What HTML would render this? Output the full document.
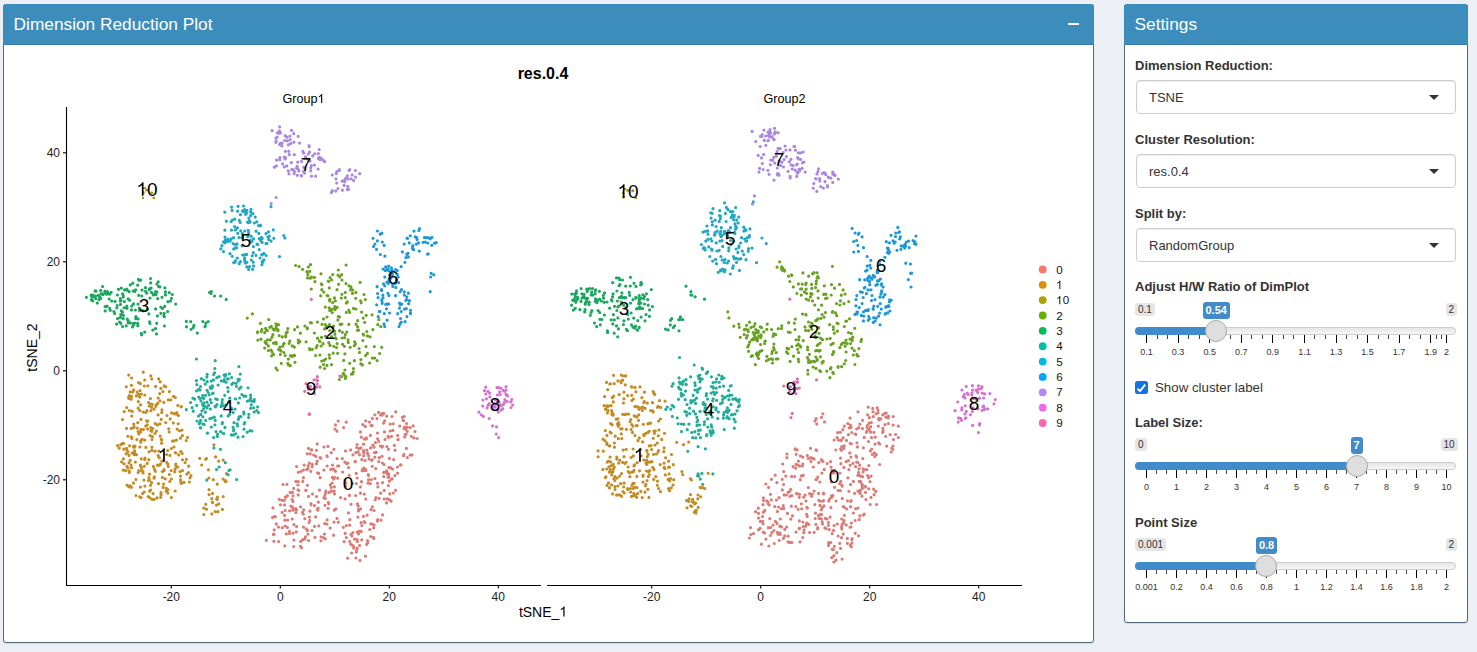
<!DOCTYPE html>
<html><head><meta charset="utf-8">
<style>
html,body{margin:0;padding:0;}
body{width:1477px;height:652px;overflow:hidden;background:#ecf0f5;position:relative;font-family:"Liberation Sans",sans-serif;color:#333;}
.box{position:absolute;background:#fff;border:1px solid #526c7e;border-radius:3px;box-shadow:0 1px 1px rgba(0,0,0,0.1);box-sizing:border-box;}
.hdr{position:absolute;left:-1px;top:-1px;right:-1px;height:40px;background:#3c8dbc;border-bottom:1px solid #3a7ba3;border-radius:3px 3px 0 0;}
.title{position:absolute;color:#fff;font-size:17.3px;white-space:nowrap;line-height:1;}
.minus{position:absolute;left:1068px;top:22.5px;width:10.5px;height:2px;background:#fff;}
.plot{position:absolute;left:0;top:0;}
.lbl{position:absolute;font-weight:bold;font-size:13px;color:#333;white-space:nowrap;line-height:1;}
.sel{position:absolute;left:1136px;width:320px;height:34px;border:1px solid #ccc;border-radius:4px;box-sizing:border-box;background:#fff;box-shadow:inset 0 1px 1px rgba(0,0,0,0.075);}
.sel span{position:absolute;left:12px;top:10px;font-size:13px;color:#333;line-height:1;white-space:nowrap;}
.sel i{position:absolute;right:16px;top:14px;width:0;height:0;border-style:solid;border-width:5.5px 5.5px 0 5.5px;border-color:#333 transparent transparent transparent;}
.abs{position:absolute;}
.irs-mm{position:absolute;height:13px;padding:0 3px;background:rgba(0,0,0,0.1);border-radius:3px;font-size:10px;line-height:13px;color:#333;white-space:nowrap;}
.irs-val{position:absolute;height:17px;padding:0 3px;background:#428bca;border-radius:3px;font-size:11px;font-weight:bold;line-height:17px;color:#fff;white-space:nowrap;}
.irs-line{position:absolute;left:1135px;width:321px;height:8px;border:1px solid #ccc;box-sizing:border-box;border-radius:8px;background:linear-gradient(to bottom,#dddddd -50%,#fff 150%);}
.irs-bar{position:absolute;left:1135px;height:8px;background:#428bca;border-radius:8px 0 0 8px;}
.irs-h{position:absolute;width:22px;height:22px;box-sizing:border-box;border:1px solid #ababab;background:#dedede;border-radius:50%;}
.tk{position:absolute;width:1px;background:#000;}
.tt{position:absolute;font-size:9px;color:#333;line-height:1;white-space:nowrap;transform:translateX(-50%);}
</style></head><body>
<div class="box" style="left:3px;top:4px;width:1091px;height:639px;">
  <div class="hdr"></div>
</div>
<div class="title" style="left:13.6px;top:15.8px;">Dimension Reduction Plot</div>
<div class="minus"></div>
<div class="box" style="left:1124px;top:4px;width:344px;height:619px;">
  <div class="hdr"></div>
</div>
<div class="title" style="left:1134.6px;top:15.8px;">Settings</div>
<svg class="plot" width="1477" height="652" viewBox="0 0 1477 652"><defs><filter id="bl" x="-0.05" y="-0.05" width="1.1" height="1.1"><feGaussianBlur stdDeviation="0.4"/></filter></defs>
<g font-family="Liberation Sans" fill="#000">
<text x="543" y="79" font-size="16" font-weight="bold" text-anchor="middle">res.0.4</text>
<g font-size="12.6"><text x="282.49" y="103.00">Group</text><path d="M322.21 103.00 L321.10 103.00 L321.10 95.94 L320.69 96.32 L320.04 96.71 L319.38 97.10 L318.87 97.29 L318.87 96.22 L319.79 95.79 L320.48 95.18 L321.17 94.56 L321.46 93.98 L322.21 93.98Z"/></g>
<text x="784.5" y="103" font-size="12.6" text-anchor="middle">Group2</text>
</g>
<g stroke="#000" stroke-width="1.1">
<line x1="66.5" y1="107" x2="66.5" y2="585.5"/>
<line x1="66" y1="585.5" x2="541" y2="585.5"/>
<line x1="547" y1="585.5" x2="1022" y2="585.5"/>
<line x1="63" y1="152.8" x2="66.5" y2="152.8"/><line x1="63" y1="261.8" x2="66.5" y2="261.8"/><line x1="63" y1="370.8" x2="66.5" y2="370.8"/><line x1="63" y1="479.8" x2="66.5" y2="479.8"/>
<line x1="171.3" y1="585.5" x2="171.3" y2="588.5"/><line x1="280.3" y1="585.5" x2="280.3" y2="588.5"/><line x1="389.3" y1="585.5" x2="389.3" y2="588.5"/><line x1="498.3" y1="585.5" x2="498.3" y2="588.5"/>
<line x1="651.7" y1="585.5" x2="651.7" y2="588.5"/><line x1="760.7" y1="585.5" x2="760.7" y2="588.5"/><line x1="869.7" y1="585.5" x2="869.7" y2="588.5"/><line x1="978.7" y1="585.5" x2="978.7" y2="588.5"/>
</g>
<g font-family="Liberation Sans" font-size="12" fill="#222" text-anchor="middle">
<text x="171.3" y="601">-20</text><text x="280.3" y="601">0</text><text x="389.3" y="601">20</text><text x="498.3" y="601">40</text>
<text x="651.7" y="601">-20</text><text x="760.7" y="601">0</text><text x="869.7" y="601">20</text><text x="978.7" y="601">40</text>
</g>
<g font-family="Liberation Sans" font-size="12" fill="#222" text-anchor="end">
<text x="60" y="152.8" dominant-baseline="central">40</text><text x="60" y="261.8" dominant-baseline="central">20</text><text x="60" y="370.8" dominant-baseline="central">0</text><text x="60" y="479.8" dominant-baseline="central">-20</text>
</g>
<g font-family="Liberation Sans" font-size="14"><text x="518.88" y="616.50">tSNE_</text><path d="M564.56 616.50 L563.33 616.50 L563.33 608.66 L562.88 609.08 L562.15 609.51 L561.42 609.95 L560.85 610.16 L560.85 608.97 L561.87 608.49 L562.64 607.81 L563.41 607.12 L563.73 606.48 L564.56 606.48Z"/></g>
<text transform="translate(36.5,347.5) rotate(-90)" font-family="Liberation Sans" font-size="14" text-anchor="middle">tSNE_2</text>
<path d="M348.5 512.9h0M373.9 538.4h0M407.2 431.3h0M302.7 539.7h0M387.1 471.9h0M388.5 437.4h0M388.1 477.3h0M367.8 542.8h0M338.3 522.2h0M345.1 498.9h0M328.8 503.8h0M404.2 416.5h0M382.4 463.0h0M331.2 452.7h0M313.7 455.0h0M374.1 510.5h0M278.7 541.6h0M332.2 483.0h0M394.8 475.6h0M287.4 495.7h0M394.3 445.4h0M301.5 547.7h0M404.7 427.1h0M285.3 497.0h0M320.8 458.2h0M380.7 493.2h0M403.9 454.3h0M376.0 497.5h0M405.8 429.2h0M300.7 541.4h0M312.1 466.8h0M386.5 502.9h0M407.0 427.3h0M337.6 466.0h0M293.1 533.2h0M375.2 499.8h0M377.7 519.6h0M362.8 469.1h0M370.6 447.9h0M383.5 423.2h0M323.9 470.1h0M332.5 465.0h0M363.5 444.2h0M325.4 498.5h0M364.9 522.6h0M311.8 449.8h0M403.0 420.3h0M370.4 435.4h0M308.5 448.4h0M366.3 437.8h0M303.7 509.8h0M325.6 493.0h0M317.2 461.2h0M348.6 467.6h0M384.2 490.4h0M292.8 510.2h0M337.0 431.2h0M363.4 470.7h0M364.2 521.5h0M317.9 510.2h0M331.7 491.3h0M357.4 503.9h0M334.2 491.2h0M351.9 536.0h0M296.6 466.6h0M292.0 499.5h0M315.9 456.4h0M384.4 431.9h0M404.0 428.6h0M357.1 548.2h0M397.7 435.4h0M360.4 486.9h0M286.0 497.3h0M333.6 535.2h0M293.7 488.4h0M335.0 429.0h0M388.5 449.3h0M377.0 418.5h0M397.9 439.6h0M351.6 553.0h0M311.4 449.9h0M304.1 465.1h0M370.8 523.8h0M296.5 509.7h0M327.2 456.5h0M386.9 446.6h0M366.7 544.4h0M345.5 450.9h0M346.2 422.2h0M397.4 467.0h0M320.1 477.7h0M290.9 506.1h0M361.3 437.2h0M361.1 522.7h0M367.5 540.6h0M384.2 499.0h0M296.6 526.6h0M334.4 486.8h0M342.3 458.6h0M321.1 536.8h0M374.1 447.2h0M358.2 505.9h0M404.7 437.0h0M359.5 454.8h0M369.0 459.0h0M304.9 539.1h0M406.4 448.4h0M323.8 497.8h0M365.6 469.5h0M328.1 508.3h0M388.1 436.3h0M293.9 524.6h0M385.6 472.2h0M338.8 466.0h0M355.8 452.6h0M273.9 534.1h0M378.7 441.3h0M390.1 431.0h0M395.8 411.9h0M377.5 433.0h0M298.0 489.8h0M400.3 465.0h0M367.1 515.2h0M327.0 455.9h0M345.7 486.2h0M282.3 527.7h0M388.9 467.7h0M379.3 457.7h0M380.5 415.0h0M370.7 536.6h0M343.3 527.3h0M361.7 539.9h0M328.3 502.4h0M319.5 490.1h0M293.0 501.4h0M391.1 501.2h0M355.0 461.8h0M363.7 450.5h0M318.4 502.2h0M357.3 539.5h0M403.5 420.7h0M324.0 447.0h0M411.9 454.9h0M279.2 499.3h0M316.5 463.7h0M354.6 539.2h0M384.1 464.5h0M384.7 420.9h0M325.8 491.0h0M306.1 528.9h0M350.6 449.9h0M340.6 497.7h0M318.7 473.4h0M358.5 511.0h0M367.5 453.2h0M335.5 424.9h0M388.7 474.0h0M413.9 437.9h0M333.6 479.1h0M372.4 506.8h0M375.8 468.7h0M360.4 431.9h0M403.5 455.8h0M368.2 474.7h0M324.9 495.3h0M372.8 445.3h0M285.1 510.5h0M333.9 449.3h0M389.4 481.2h0M337.0 518.4h0M372.2 425.5h0M344.9 462.1h0M274.7 516.3h0M272.6 517.4h0M287.7 520.2h0M365.5 556.2h0M335.9 508.8h0M377.4 521.1h0M333.4 468.9h0M301.1 471.3h0M337.7 478.2h0M389.8 493.9h0M292.3 507.1h0M391.5 436.4h0M318.1 508.2h0M284.6 504.9h0M274.0 534.6h0M266.3 540.3h0M386.4 472.2h0M357.3 541.4h0M361.0 447.8h0M346.7 463.7h0M386.7 416.2h0M378.6 412.4h0M275.3 516.8h0M294.0 509.3h0M371.3 479.5h0M345.8 482.8h0M359.3 448.7h0M334.5 493.9h0M365.8 499.1h0M361.9 525.6h0M355.4 461.4h0M356.4 483.5h0M356.8 550.0h0M309.8 520.3h0M298.8 490.5h0M361.5 481.7h0M280.4 504.8h0M393.3 493.0h0M325.0 505.3h0M361.2 531.4h0M316.4 450.3h0M338.2 421.1h0M283.0 484.5h0M363.6 455.8h0M327.1 466.0h0M372.3 466.3h0M376.3 452.3h0M302.5 512.3h0M324.6 523.6h0M349.2 475.3h0M406.1 434.3h0M371.7 460.3h0M320.1 457.7h0M365.1 460.5h0M365.8 420.8h0M308.1 465.8h0M368.6 455.8h0M337.1 458.7h0M368.5 479.8h0M334.0 469.8h0M328.9 492.6h0M352.9 545.7h0M305.4 536.9h0M325.2 538.9h0M320.9 540.8h0M374.8 457.2h0M342.6 472.0h0M330.3 484.9h0M311.0 504.8h0M364.3 494.1h0M383.8 413.4h0M345.2 533.4h0M383.6 472.4h0M363.5 452.1h0M314.5 505.6h0M361.8 459.6h0M324.5 534.1h0M303.4 527.1h0M344.1 541.6h0M410.1 455.1h0M406.6 423.5h0M286.3 533.9h0M359.6 545.5h0M298.3 481.6h0M306.6 469.6h0M284.4 500.3h0M355.7 495.5h0M357.9 517.2h0M363.8 468.0h0M372.2 459.8h0M377.5 483.3h0M289.4 531.4h0M310.2 453.8h0M410.0 427.5h0M314.5 526.4h0M330.8 469.4h0M359.3 531.3h0M393.7 459.6h0M302.8 481.4h0M334.0 522.2h0M349.5 495.4h0M347.9 463.0h0M276.3 523.9h0M373.1 445.2h0M357.1 478.0h0M399.7 426.1h0M387.2 498.8h0M346.3 525.5h0M352.4 483.4h0M309.0 522.5h0M392.2 478.9h0M306.1 490.4h0M300.4 546.3h0M402.4 417.2h0M300.6 506.8h0M318.8 525.9h0M315.0 537.3h0M316.6 496.5h0M290.1 492.4h0M284.9 520.2h0M328.0 446.4h0M343.6 427.6h0M278.5 527.1h0M369.8 529.5h0M358.6 509.4h0M395.1 450.2h0M358.5 534.0h0M286.9 484.3h0M307.2 453.8h0M273.0 507.9h0M273.9 541.3h0M353.0 454.8h0M308.6 540.5h0M357.2 532.0h0M382.6 446.3h0M382.1 456.3h0M357.1 444.5h0M356.7 447.5h0M307.4 485.3h0M374.5 452.6h0M377.9 486.9h0M309.4 517.0h0M358.1 451.9h0M347.7 558.2h0M390.2 424.1h0M312.5 494.1h0M371.0 509.7h0M375.5 442.6h0M411.3 436.3h0M334.3 510.2h0M307.9 534.2h0M398.2 439.5h0M374.1 525.0h0M368.0 483.1h0M366.9 450.0h0M415.0 431.5h0M387.5 474.1h0M377.7 438.8h0M391.4 479.1h0M370.9 425.5h0M274.2 529.8h0M351.0 504.3h0M382.2 415.1h0M308.1 468.7h0M276.4 524.1h0M382.0 447.1h0M292.4 492.4h0M349.7 525.2h0M393.3 423.8h0M365.8 438.9h0M390.5 467.7h0M378.8 461.6h0M303.4 477.7h0M330.1 528.1h0M295.9 512.6h0M295.8 508.5h0M303.3 514.1h0M295.9 512.5h0M353.4 546.1h0M304.8 518.7h0M289.5 533.5h0M350.8 544.3h0M317.2 443.9h0M292.2 519.0h0M362.9 424.7h0M273.3 534.3h0M383.8 476.6h0M385.0 439.4h0M360.5 493.2h0M293.9 540.0h0M379.1 498.3h0M366.0 470.5h0M386.4 470.8h0M350.9 534.5h0M360.6 508.9h0M365.3 426.4h0M362.1 470.6h0M312.0 530.5h0M372.4 418.4h0M303.4 470.1h0M331.1 491.2h0M373.7 527.8h0M395.6 490.3h0M312.3 464.3h0M334.6 477.5h0M374.9 478.6h0M293.8 546.5h0M295.9 481.4h0M392.0 416.5h0M308.6 496.4h0M289.6 510.8h0M327.0 524.1h0M401.0 464.9h0M310.7 471.3h0M285.2 526.0h0M382.6 514.9h0M298.3 472.3h0M382.6 482.7h0M296.3 531.9h0M352.9 532.7h0M370.3 483.6h0M392.9 430.4h0M372.3 524.1h0M369.5 422.1h0M287.4 527.4h0M380.4 446.0h0M388.8 476.8h0M305.7 490.4h0M382.0 413.5h0M284.6 515.3h0M327.1 519.9h0M381.0 520.2h0M363.8 452.8h0M356.4 551.9h0M405.1 434.5h0M311.0 503.5h0M389.3 458.4h0M368.5 475.6h0M315.6 516.9h0M360.0 560.4h0M317.4 509.1h0M366.4 438.9h0M293.0 495.8h0M346.3 537.6h0M298.2 494.9h0M331.3 487.5h0M374.9 414.8h0M284.8 545.9h0M309.9 511.2h0M349.7 541.6h0M317.6 472.9h0M392.5 469.1h0M363.5 516.3h0M353.7 548.1h0M355.9 558.0h0M323.3 537.5h0M389.3 499.7h0M344.9 480.0h0M373.4 537.3h0M297.9 485.0h0M388.3 485.6h0M364.2 439.1h0M407.3 457.5h0M282.1 512.4h0M282.0 500.3h0M417.2 438.5h0M397.6 473.2h0M307.5 530.4h0M413.1 425.9h0M349.8 519.7h0M332.3 477.4h0M309.4 463.2h0M335.5 471.3h0M356.2 473.4h0" stroke="#DA7B75" stroke-width="3.20" stroke-linecap="round" fill="none" filter="url(#bl)"/>
<path d="M225.2 481.6h0M143.9 480.1h0M158.5 483.7h0M162.9 391.6h0M206.5 458.5h0M205.8 504.3h0M164.1 469.5h0M154.1 409.2h0M148.6 402.5h0M155.0 433.5h0M138.1 431.6h0M152.2 404.3h0M141.0 419.4h0M129.3 395.6h0M150.8 404.0h0M160.7 497.3h0M165.7 386.8h0M131.7 416.0h0M215.6 456.9h0M170.2 418.9h0M144.3 466.2h0M166.4 488.4h0M169.9 455.4h0M171.6 412.9h0M186.8 474.1h0M168.3 399.9h0M143.2 412.1h0M213.3 479.7h0M173.5 396.4h0M153.1 493.6h0M122.5 419.5h0M149.7 497.6h0M179.6 430.8h0M129.6 445.8h0M126.6 448.3h0M173.3 422.9h0M154.2 499.4h0M145.7 426.1h0M139.8 410.6h0M124.2 411.7h0M171.4 479.0h0M126.1 453.8h0M129.0 455.4h0M201.7 465.0h0M161.7 412.6h0M131.6 467.7h0M223.1 479.1h0M141.3 458.8h0M158.2 398.0h0M142.9 471.4h0M129.0 462.7h0M130.2 391.9h0M126.5 428.4h0M147.0 410.7h0M123.8 449.2h0M171.4 497.6h0M141.6 470.8h0M131.0 465.1h0M169.2 432.0h0M185.1 462.6h0M178.7 454.9h0M145.8 412.5h0M145.9 447.4h0M160.0 400.9h0M138.8 433.9h0M136.5 454.7h0M144.3 386.0h0M203.8 508.0h0M164.1 385.9h0M155.0 451.2h0M129.4 472.4h0M155.3 471.3h0M141.9 439.3h0M117.6 445.7h0M140.4 383.7h0M151.9 450.4h0M137.2 428.1h0M172.6 441.1h0M223.2 496.5h0M218.8 503.9h0M161.0 492.5h0M175.1 468.8h0M222.4 509.4h0M144.7 459.5h0M205.7 459.3h0M166.2 491.2h0M138.6 432.8h0M175.8 452.9h0M186.2 440.5h0M157.5 465.2h0M138.1 408.2h0M161.2 419.4h0M160.2 436.1h0M127.9 436.3h0M213.9 444.8h0M123.2 470.1h0M154.3 476.9h0M190.0 477.8h0M133.5 427.8h0M180.0 471.6h0M143.4 429.6h0M147.6 429.1h0M217.5 497.2h0M160.2 381.8h0M177.7 467.1h0M165.7 422.6h0M134.5 452.5h0M167.8 493.1h0M169.4 391.6h0M163.8 402.4h0M180.9 451.7h0M206.5 509.2h0M126.9 466.4h0M174.2 413.7h0M211.8 498.6h0M150.7 490.0h0M121.7 461.9h0M176.4 440.1h0M162.4 477.4h0M182.5 459.8h0M226.0 481.5h0M166.6 454.5h0M216.5 505.1h0M148.5 480.5h0M131.4 436.9h0M126.9 449.9h0M134.2 454.4h0M163.2 487.4h0M147.2 463.4h0M132.7 392.0h0M127.1 485.2h0M140.0 390.6h0M167.7 450.5h0M140.9 442.2h0M148.9 459.7h0M178.4 415.5h0M127.9 452.1h0M209.1 494.6h0M218.7 461.1h0M212.6 502.6h0M133.7 424.1h0M167.4 490.1h0M126.7 407.6h0M164.0 470.7h0M149.3 406.0h0M134.1 426.7h0M131.4 385.3h0M128.9 486.8h0M171.3 448.5h0M175.8 465.6h0M169.8 481.5h0M170.9 399.8h0M215.1 511.5h0M180.5 476.1h0M136.0 495.5h0M128.5 397.3h0M151.9 499.3h0M148.9 477.7h0M138.5 382.5h0M122.6 443.3h0M134.4 447.2h0M132.2 453.1h0M150.8 427.5h0M161.2 439.4h0M133.6 447.2h0M168.7 428.8h0M119.2 448.2h0M157.4 424.9h0M153.4 466.7h0M217.3 484.2h0M161.8 439.8h0M148.2 496.6h0M159.9 423.9h0M167.9 464.2h0M150.4 398.6h0M163.5 484.1h0M135.4 462.1h0M151.6 482.7h0M162.0 409.8h0M159.3 457.8h0M131.9 438.4h0M167.8 489.6h0M150.5 485.3h0M168.3 466.5h0M139.7 397.1h0M151.8 431.3h0M139.9 447.0h0M163.1 460.5h0M160.4 464.2h0M141.3 394.1h0M135.0 446.0h0M182.5 470.6h0M186.4 459.3h0M184.0 482.4h0M140.6 466.0h0M146.6 420.9h0M140.6 441.1h0M124.1 463.8h0M155.7 386.4h0M169.4 474.5h0M159.2 465.3h0M152.0 439.5h0M209.0 489.7h0M191.0 475.6h0M150.1 435.6h0M144.9 486.1h0M223.2 460.2h0M154.0 478.2h0M171.2 470.5h0M158.2 455.7h0M147.2 424.9h0M176.5 414.1h0M149.6 491.2h0M151.8 379.1h0M138.8 470.6h0M144.8 395.0h0M181.0 406.8h0M150.9 410.7h0M139.7 496.8h0M212.3 502.1h0M157.1 497.9h0M140.6 432.0h0M143.1 473.0h0M142.6 493.6h0M161.9 461.2h0M128.9 398.4h0M155.2 423.6h0M144.2 492.1h0M178.2 423.8h0M145.0 458.2h0M131.3 428.4h0M166.7 462.3h0M208.4 469.8h0M134.6 450.8h0M139.0 394.3h0M180.5 479.8h0M133.7 389.9h0M158.7 378.9h0M137.8 422.7h0M175.3 397.5h0M152.8 428.5h0M150.8 375.8h0M130.2 460.3h0M140.6 404.9h0M147.9 385.8h0M226.4 473.6h0M131.4 487.3h0M188.6 472.5h0M181.2 483.4h0M212.6 493.4h0M165.2 478.8h0M149.0 451.8h0M154.5 469.4h0M180.9 481.9h0M175.3 452.6h0M157.7 403.4h0M160.9 388.4h0M120.8 444.7h0M140.5 465.2h0M140.4 487.0h0M150.9 430.7h0M175.8 464.0h0M132.2 411.4h0M123.4 458.8h0M159.7 393.6h0M143.2 372.2h0M131.2 399.2h0M217.9 511.7h0M167.0 415.5h0M180.4 438.2h0M141.6 468.0h0M174.0 447.0h0M129.3 410.5h0M131.6 378.0h0M137.1 392.2h0M136.5 395.9h0M173.8 440.9h0M126.3 386.8h0M133.5 483.1h0M225.5 480.5h0M128.7 375.1h0M174.8 471.7h0M176.8 412.7h0M138.3 401.6h0M144.7 440.2h0M138.2 472.6h0M129.2 471.0h0M177.8 405.4h0M128.0 467.9h0M162.3 471.5h0M217.2 499.4h0M182.0 430.1h0M156.4 431.1h0M182.2 453.5h0M158.1 414.9h0M187.6 437.5h0M123.7 443.5h0M182.4 435.7h0M199.7 458.4h0M189.4 482.0h0M135.9 479.5h0M130.3 485.9h0M144.7 380.0h0M156.0 405.2h0M131.5 396.3h0M161.0 494.7h0M151.6 407.3h0M136.8 439.6h0M152.4 436.6h0M149.4 480.2h0M125.8 470.7h0M181.4 406.6h0M140.8 429.4h0M216.7 498.9h0M133.6 446.1h0M149.5 474.2h0M155.8 406.3h0M177.1 429.1h0M158.7 451.0h0M175.2 491.0h0M147.7 421.2h0M208.9 478.0h0M141.1 497.5h0M151.9 447.2h0M211.9 513.9h0M203.8 514.5h0M161.6 443.2h0M188.7 466.2h0" stroke="#C38B24" stroke-width="3.20" stroke-linecap="round" fill="none" filter="url(#bl)"/>
<path d="M334.8 306.6h0M261.3 331.4h0M350.6 290.0h0M329.2 354.9h0M321.5 337.3h0M372.1 314.8h0M275.3 329.1h0M360.1 282.4h0M332.7 302.5h0M310.5 264.7h0M267.5 339.8h0M338.0 275.2h0M284.1 343.4h0M312.4 349.3h0M334.4 297.9h0M278.5 324.7h0M343.7 360.4h0M363.2 318.1h0M349.0 285.8h0M276.2 326.5h0M346.8 332.0h0M327.0 317.0h0M321.8 289.7h0M346.0 283.6h0M364.0 294.5h0M355.9 292.4h0M342.6 344.3h0M363.8 335.1h0M342.0 338.0h0M268.3 345.9h0M328.3 281.2h0M289.1 343.5h0M378.9 319.7h0M348.8 310.1h0M326.2 327.5h0M271.3 326.4h0M367.5 335.9h0M337.1 343.6h0M344.4 346.3h0M294.6 329.6h0M343.2 373.7h0M261.9 329.4h0M257.7 331.9h0M261.0 339.0h0M273.6 354.5h0M354.4 360.7h0M314.9 281.7h0M342.0 280.1h0M338.3 316.5h0M285.7 336.8h0M325.3 307.1h0M271.6 355.8h0M377.8 324.7h0M282.3 336.9h0M361.6 312.1h0M321.8 361.0h0M324.1 360.3h0M379.7 353.5h0M349.7 363.3h0M363.2 334.2h0M286.4 332.5h0M348.3 342.4h0M331.6 280.0h0M257.9 340.1h0M320.0 341.4h0M295.6 265.5h0M265.1 342.3h0M272.1 352.0h0M278.6 349.6h0M299.1 266.6h0M307.3 328.8h0M332.4 327.5h0M264.7 332.7h0M335.3 300.8h0M277.9 330.8h0M324.7 368.5h0M325.4 336.3h0M275.9 368.0h0M294.4 347.1h0M339.4 379.5h0M286.1 333.5h0M275.9 342.4h0M339.8 276.9h0M323.1 343.7h0M299.9 341.6h0M333.8 346.3h0M298.3 343.0h0M366.2 315.3h0M323.5 318.9h0M297.5 326.9h0M267.4 330.6h0M331.5 364.6h0M293.5 355.7h0M327.3 326.5h0M317.5 338.2h0M287.8 328.6h0M279.2 335.6h0M350.2 347.3h0M329.2 307.8h0M380.8 326.7h0M325.7 359.0h0M308.3 267.0h0M281.1 351.1h0M341.3 298.1h0M333.5 326.0h0M329.6 358.1h0M366.0 346.6h0M330.0 299.5h0M355.8 298.3h0M344.6 337.6h0M282.7 346.2h0M272.9 334.7h0M325.3 324.7h0M270.3 339.9h0M341.7 274.7h0M311.4 322.9h0M335.2 309.6h0M339.5 317.1h0M381.7 347.3h0M351.4 374.2h0M304.9 326.0h0M266.4 343.7h0M320.7 295.8h0M324.6 328.9h0M328.7 342.6h0M283.9 352.5h0M328.0 295.8h0M329.9 344.9h0M323.8 292.1h0M268.3 350.6h0M291.9 356.5h0M365.6 355.5h0M273.0 329.1h0M360.9 359.6h0M337.8 320.1h0M274.5 330.1h0M261.1 339.3h0M372.9 329.7h0M345.9 376.5h0M345.3 292.4h0M377.1 360.6h0M360.6 300.8h0M347.4 301.9h0M273.3 329.1h0M321.1 346.0h0M275.9 323.8h0M257.5 332.6h0M306.9 271.7h0M310.3 278.2h0M344.9 370.0h0M355.5 344.0h0M353.4 368.5h0M309.9 349.7h0M311.3 289.0h0M309.8 271.3h0M335.5 337.8h0M331.5 336.5h0M366.8 331.6h0M288.4 364.8h0M334.9 334.3h0M358.5 330.2h0M352.5 293.4h0M339.6 330.7h0M341.8 324.1h0M266.4 329.9h0M357.5 330.3h0M311.5 277.2h0M329.7 310.5h0M362.9 340.6h0M362.4 364.9h0M322.0 324.3h0M320.2 367.2h0M348.8 324.4h0M345.3 334.6h0M329.5 324.7h0M321.3 283.8h0M354.7 341.9h0M287.8 363.3h0M294.5 355.4h0M328.6 281.4h0M338.3 270.0h0M348.0 339.8h0M314.4 333.0h0M352.7 290.0h0M285.6 336.2h0M344.9 353.9h0M336.2 338.8h0M360.9 363.9h0M295.0 362.3h0M278.1 330.0h0M345.4 378.4h0M359.5 352.4h0M334.3 308.5h0M306.1 341.8h0M247.3 318.1h0M343.6 373.5h0M319.9 355.0h0M277.5 329.3h0M276.3 343.7h0M357.7 320.7h0M283.6 344.1h0M273.5 343.1h0M338.6 284.3h0M268.7 319.6h0M327.0 365.4h0M287.3 331.9h0M350.9 288.7h0M374.3 346.6h0M356.0 309.0h0M317.1 345.5h0M290.5 355.7h0M340.2 324.4h0M317.5 322.0h0M345.3 297.6h0M264.7 348.1h0M322.0 284.7h0M332.2 312.6h0M274.2 343.2h0M277.3 370.0h0M334.6 331.3h0M346.3 303.1h0M372.3 358.1h0M356.1 324.2h0M298.3 340.2h0M292.2 345.9h0M352.6 374.0h0M315.6 355.5h0M329.3 287.9h0M361.2 302.8h0M309.5 348.5h0M351.0 286.8h0M346.1 265.1h0M331.7 309.6h0M337.0 289.7h0M314.4 277.4h0M370.1 336.8h0M329.3 299.8h0M365.3 299.6h0M330.1 277.6h0M332.7 274.5h0M285.1 355.5h0M327.1 295.5h0M279.9 347.2h0M367.4 353.4h0M281.3 363.3h0M341.5 376.6h0M260.4 323.3h0M307.3 271.9h0M354.3 345.7h0M316.2 347.7h0M307.5 277.9h0M342.4 332.3h0M321.0 273.8h0M336.5 347.5h0M300.4 333.2h0M359.1 348.5h0M337.6 353.3h0M310.5 322.7h0M272.0 337.2h0M288.4 359.1h0M346.3 312.4h0M280.6 350.4h0M290.3 365.7h0M364.7 322.3h0M252.4 313.9h0M333.2 353.2h0M329.8 330.5h0M374.7 358.0h0M332.7 302.6h0M302.6 269.3h0M265.3 341.5h0M337.1 307.4h0M289.8 341.0h0M341.9 294.3h0M323.5 364.6h0M353.5 308.4h0M280.3 354.5h0M271.1 350.1h0M265.6 328.4h0M307.4 327.9h0M329.7 301.1h0M344.7 375.5h0M269.8 327.3h0M369.6 363.0h0M319.4 340.9h0M330.0 345.6h0M357.6 326.8h0M349.7 312.3h0M353.3 371.9h0M307.9 274.7h0" stroke="#69A220" stroke-width="3.20" stroke-linecap="round" fill="none" filter="url(#bl)"/>
<path d="M95.3 290.8h0M164.7 306.4h0M209.6 292.4h0M128.3 321.1h0M102.8 294.7h0M164.4 326.0h0M118.5 289.3h0M100.7 290.4h0M127.2 290.2h0M155.9 294.7h0M137.7 323.3h0M92.4 297.2h0M93.0 295.1h0M141.3 333.4h0M121.0 300.6h0M128.1 298.8h0M126.8 306.2h0M147.2 309.4h0M107.8 292.8h0M100.6 298.4h0M98.4 295.3h0M116.9 307.8h0M120.2 317.5h0M155.5 328.6h0M99.7 297.0h0M91.2 295.2h0M186.3 321.4h0M211.4 291.5h0M123.3 295.7h0M120.5 304.4h0M123.2 297.0h0M157.7 298.7h0M167.9 301.7h0M156.2 292.2h0M149.2 289.7h0M156.7 323.3h0M131.5 309.9h0M134.6 291.4h0M148.9 313.9h0M111.7 301.1h0M165.4 291.9h0M91.3 299.8h0M126.8 289.2h0M140.7 280.1h0M169.3 292.7h0M155.6 308.9h0M137.8 325.7h0M151.0 288.2h0M117.2 305.5h0M145.6 291.4h0M226.2 299.4h0M138.4 279.3h0M205.3 326.1h0M95.5 296.0h0M135.4 310.0h0M156.9 284.0h0M175.7 304.1h0M156.5 333.9h0M122.6 293.8h0M104.9 291.2h0M106.9 292.8h0M156.9 292.2h0M170.5 301.0h0M155.6 291.7h0M139.1 280.3h0M133.5 324.9h0M157.4 315.9h0M105.0 293.1h0M133.0 323.5h0M129.6 300.3h0M150.5 278.6h0M205.0 326.8h0M130.3 284.9h0M160.8 313.3h0M214.5 296.0h0M124.4 301.6h0M116.6 324.1h0M107.4 291.7h0M127.0 308.3h0M122.4 312.2h0M190.7 321.6h0M141.6 334.8h0M105.1 306.6h0M139.4 308.1h0M135.9 316.7h0M138.0 304.1h0M130.3 322.9h0M119.5 322.0h0M95.3 296.4h0M106.7 294.2h0M128.1 322.8h0M152.8 330.1h0M138.7 295.3h0M141.8 296.0h0M95.7 298.5h0M165.5 294.9h0M92.8 300.9h0M159.6 286.6h0M120.3 298.5h0M197.3 333.1h0M211.1 293.5h0M135.7 318.4h0M162.5 308.5h0M153.3 294.9h0M120.8 314.6h0M95.0 291.0h0M105.2 310.9h0M158.2 281.8h0M120.8 323.4h0M144.7 332.1h0M132.8 283.2h0M111.1 292.4h0M159.9 287.0h0M149.6 321.9h0M132.5 326.9h0M124.1 307.8h0M113.9 311.5h0M102.6 286.5h0M150.0 298.0h0M102.3 293.9h0M143.5 310.8h0M154.9 293.5h0M193.9 325.4h0M114.7 313.5h0M167.7 311.5h0M146.8 293.2h0M133.5 303.9h0M123.4 315.4h0M193.3 327.4h0M117.5 318.6h0M122.6 326.6h0M110.3 310.3h0M120.4 301.0h0M123.2 318.7h0M127.3 319.2h0M158.6 286.5h0M106.6 306.4h0M164.9 287.9h0M202.8 321.5h0M124.5 289.9h0M220.7 296.1h0M117.4 295.0h0M137.7 285.2h0M129.2 291.6h0M109.1 299.0h0M162.0 297.3h0M208.2 321.6h0M115.1 301.4h0M121.3 288.1h0M149.8 288.7h0M131.8 306.1h0M172.3 294.5h0M86.4 297.3h0M121.3 310.8h0M186.5 326.8h0M120.5 317.3h0M91.4 295.9h0M150.7 282.9h0M139.6 310.4h0M134.9 323.0h0M164.3 316.7h0M138.1 318.9h0M109.7 308.4h0M133.3 290.9h0M107.1 306.0h0M163.9 315.7h0M142.0 290.1h0M135.7 289.9h0M164.2 313.4h0M191.1 329.3h0M205.8 323.2h0M151.5 292.4h0M126.2 325.8h0M145.5 287.7h0M149.9 323.5h0M98.9 299.6h0M109.6 294.2h0M171.4 298.3h0M96.0 291.2h0M101.0 293.8h0M97.3 303.1h0M160.8 307.1h0" stroke="#1DA660" stroke-width="3.20" stroke-linecap="round" fill="none" filter="url(#bl)"/>
<path d="M213.6 379.9h0M229.8 398.2h0M231.3 434.9h0M226.0 404.8h0M205.2 384.2h0M238.4 402.9h0M240.9 416.6h0M238.3 419.4h0M225.3 462.7h0M247.4 401.2h0M222.4 422.5h0M202.7 397.8h0M212.5 393.6h0M228.1 391.6h0M204.1 424.4h0M196.5 359.0h0M253.7 407.8h0M229.6 414.3h0M239.4 379.4h0M220.4 449.3h0M202.9 424.0h0M228.4 379.0h0M220.6 431.7h0M205.7 420.4h0M233.7 429.6h0M207.2 381.7h0M250.0 430.7h0M223.7 433.6h0M213.6 437.6h0M214.9 424.8h0M249.7 400.3h0M254.0 412.0h0M208.3 392.6h0M200.2 422.3h0M211.3 427.1h0M248.6 417.5h0M207.0 407.7h0M248.8 414.3h0M215.1 406.3h0M224.3 379.6h0M200.7 414.4h0M207.1 374.4h0M214.3 417.2h0M203.8 402.9h0M212.4 385.8h0M217.6 434.3h0M245.9 396.2h0M228.9 470.5h0M224.7 395.3h0M200.3 427.7h0M244.0 429.2h0M206.9 402.2h0M196.9 384.6h0M239.2 388.9h0M216.0 431.6h0M223.3 405.8h0M233.5 434.9h0M227.7 387.6h0M247.2 432.2h0M207.1 390.3h0M231.3 408.0h0M254.3 399.7h0M212.1 418.0h0M198.7 389.4h0M221.9 404.2h0M236.4 386.3h0M200.6 420.4h0M213.1 393.2h0M221.1 432.0h0M239.7 398.0h0M199.2 423.7h0M202.7 395.6h0M217.3 399.5h0M209.2 394.8h0M222.3 399.7h0M241.9 394.5h0M202.9 416.8h0M231.7 377.6h0M211.9 388.0h0M200.5 386.6h0M254.1 401.4h0M237.2 423.8h0M210.4 409.0h0M186.3 409.6h0M205.4 412.2h0M258.5 412.6h0M197.0 421.0h0M224.0 375.0h0M216.8 377.7h0M194.7 399.2h0M235.9 433.8h0M196.4 380.7h0M235.0 409.1h0M207.5 433.2h0M224.2 381.5h0M221.2 415.9h0M215.2 420.4h0M217.4 436.4h0M209.9 418.7h0M251.8 401.2h0M250.6 408.3h0M225.2 376.2h0M238.0 379.3h0M203.7 398.4h0M243.9 396.2h0M203.7 408.8h0M225.0 427.4h0M244.0 414.0h0M217.0 404.6h0M216.5 469.5h0M215.7 398.8h0M251.9 431.0h0M198.5 416.1h0M219.1 376.7h0M251.3 404.9h0M228.5 402.3h0M200.9 401.0h0M219.1 467.0h0M226.1 382.2h0M238.0 437.2h0M240.3 374.1h0M250.7 397.9h0M222.2 402.6h0M229.0 401.5h0M192.1 407.7h0M205.0 406.1h0M210.8 388.5h0M233.1 383.1h0M218.1 385.0h0M196.7 405.4h0M215.5 406.8h0M210.3 399.7h0M220.9 406.6h0M201.4 378.7h0M234.0 422.7h0M210.2 387.1h0M233.6 430.8h0M238.9 366.6h0M225.7 374.7h0M206.9 377.1h0M230.1 469.8h0M229.3 373.8h0M213.9 447.9h0M222.2 423.7h0M243.1 436.5h0M196.5 391.0h0M235.5 398.9h0M256.7 410.7h0M203.1 405.6h0M206.8 480.1h0M238.3 380.9h0M231.8 384.3h0M239.1 416.8h0M236.0 383.3h0M237.6 426.0h0M248.0 387.8h0M193.2 411.2h0M198.7 397.1h0M199.8 398.4h0M243.7 412.0h0M233.1 427.3h0M238.5 418.9h0M208.6 405.2h0M257.6 406.8h0M213.6 374.5h0M190.6 402.5h0M250.6 395.1h0M214.8 368.5h0M200.7 428.0h0M244.8 422.5h0M244.1 423.9h0M236.7 479.6h0M192.9 398.2h0M211.3 402.6h0M205.5 395.3h0M221.3 380.9h0M227.6 378.8h0M228.2 415.9h0M202.5 404.2h0M200.0 390.1h0M214.6 372.8h0M211.2 381.1h0M204.0 380.1h0M215.2 360.7h0M228.0 474.7h0M212.4 387.1h0M241.0 387.2h0M233.1 412.6h0M201.9 411.0h0" stroke="#20AC99" stroke-width="3.20" stroke-linecap="round" fill="none" filter="url(#bl)"/>
<path d="M250.7 215.5h0M238.1 206.3h0M247.5 222.0h0M256.0 255.3h0M263.9 253.4h0M266.0 233.6h0M231.6 207.1h0M224.9 230.2h0M232.1 210.4h0M257.8 244.6h0M266.1 255.5h0M243.5 206.0h0M260.1 258.0h0M268.4 231.8h0M251.3 236.3h0M246.9 266.9h0M253.6 238.9h0M233.7 249.1h0M226.4 221.2h0M233.6 237.7h0M227.9 240.4h0M235.5 229.9h0M231.2 238.8h0M283.8 235.5h0M228.0 239.2h0M232.2 256.3h0M242.1 237.8h0M240.7 230.9h0M249.3 220.8h0M245.6 214.3h0M235.2 262.1h0M224.8 243.0h0M234.6 226.6h0M269.3 236.2h0M246.9 262.3h0M250.5 240.1h0M227.6 241.4h0M262.8 262.2h0M266.9 243.4h0M263.9 259.9h0M259.2 238.7h0M260.6 225.4h0M237.4 227.9h0M258.6 225.7h0M243.3 211.7h0M248.7 269.5h0M271.0 206.7h0M242.6 255.0h0M250.3 240.8h0M247.8 236.7h0M262.1 242.4h0M246.5 213.2h0M251.9 241.5h0M250.6 212.1h0M271.1 241.1h0M249.7 221.6h0M252.9 213.6h0M251.5 241.9h0M234.5 248.5h0M257.1 244.3h0M234.7 219.2h0M240.2 222.5h0M244.9 211.1h0M244.8 261.3h0M223.5 251.6h0M248.3 230.4h0M257.0 244.0h0M223.5 241.8h0M261.9 264.7h0M242.4 233.7h0M246.9 210.3h0M226.3 241.5h0M262.2 261.7h0M248.9 218.1h0M284.9 238.0h0M253.3 252.7h0M244.8 254.6h0M251.0 209.4h0M237.7 233.3h0M250.2 222.1h0M245.5 263.1h0M231.5 230.1h0M225.4 239.8h0M237.6 211.2h0M266.0 243.6h0M261.7 254.7h0M220.8 248.9h0M233.7 262.6h0M253.4 246.6h0M242.5 210.8h0M244.8 231.0h0M262.2 255.0h0M244.6 209.7h0M235.4 260.8h0M235.4 244.9h0M256.1 231.2h0M231.1 221.6h0M233.1 243.6h0M252.2 255.8h0M248.4 222.7h0M249.6 266.6h0M239.3 220.3h0M230.2 241.1h0M267.9 237.1h0M254.4 223.0h0M252.6 269.3h0M232.4 220.1h0M244.5 259.5h0M237.1 243.9h0M244.6 257.8h0M246.7 254.4h0M253.6 265.9h0M239.2 263.7h0M236.7 247.8h0M248.6 232.6h0M258.8 233.4h0M261.7 237.3h0M240.4 261.7h0M260.7 240.6h0M240.5 214.7h0M225.0 237.0h0M279.5 256.6h0M259.2 249.7h0M221.9 245.7h0M255.2 217.1h0M224.8 212.2h0M242.5 236.7h0M242.1 245.9h0M245.3 211.2h0M262.2 238.6h0M230.0 253.7h0M268.8 239.6h0M273.8 238.3h0M253.2 262.2h0M256.8 221.9h0M237.3 258.1h0M239.0 237.5h0M251.3 260.0h0M273.3 229.9h0" stroke="#20A7C2" stroke-width="3.20" stroke-linecap="round" fill="none" filter="url(#bl)"/>
<path d="M431.9 237.3h0M382.3 242.0h0M389.1 281.0h0M415.2 236.8h0M390.1 279.1h0M405.9 257.6h0M428.2 253.8h0M413.6 249.7h0M417.1 239.4h0M433.8 274.8h0M377.4 240.9h0M431.8 245.3h0M378.2 316.7h0M412.9 245.6h0M410.5 312.6h0M407.0 238.1h0M396.3 280.6h0M397.2 274.4h0M406.8 296.8h0M406.6 299.6h0M430.2 291.7h0M423.1 242.3h0M386.9 304.2h0M425.2 242.0h0M376.7 304.8h0M407.5 238.5h0M397.3 270.5h0M390.6 272.7h0M430.2 238.8h0M388.1 304.2h0M386.5 308.8h0M383.0 297.8h0M406.9 316.7h0M395.6 295.7h0M389.4 271.1h0M436.2 242.6h0M379.9 311.5h0M384.0 323.9h0M419.5 228.7h0M401.3 322.0h0M424.4 237.5h0M416.4 244.1h0M399.6 303.2h0M410.2 235.8h0M397.7 313.7h0M418.9 230.5h0M388.1 270.2h0M392.8 286.5h0M383.6 283.9h0M387.9 293.3h0M380.3 254.5h0M377.4 231.0h0M430.6 277.0h0M389.0 295.6h0M380.2 234.2h0M412.6 248.4h0M389.9 274.8h0M392.7 274.4h0M373.5 246.5h0M402.4 251.9h0M392.8 284.5h0M385.6 266.9h0M384.7 326.6h0M374.9 244.0h0M396.6 279.9h0M395.6 269.6h0M388.7 304.1h0M382.0 301.3h0M384.8 285.8h0M431.1 273.3h0M404.3 291.8h0M404.5 309.1h0M405.9 300.5h0M377.1 286.7h0M400.4 323.3h0M384.3 313.7h0M404.2 244.1h0M399.0 326.6h0M400.1 324.0h0M399.5 308.1h0M396.7 281.9h0M401.2 311.5h0M406.3 308.6h0M387.9 268.8h0M382.2 303.3h0M400.5 318.5h0M410.5 310.3h0M378.1 297.6h0M408.4 256.9h0M381.9 233.2h0M400.2 291.7h0M398.7 282.6h0M409.4 300.6h0M414.0 231.1h0M427.8 243.0h0M418.5 242.9h0M388.7 266.0h0M419.3 251.1h0M387.1 320.2h0M388.2 283.5h0M379.2 311.5h0M416.6 237.6h0M396.4 281.8h0M391.3 277.1h0M410.4 313.7h0M383.0 269.0h0M395.2 283.4h0M387.1 269.8h0M392.1 270.2h0M395.8 287.6h0M434.6 243.2h0M382.9 295.2h0M404.3 295.0h0M401.8 304.0h0M377.6 293.5h0M389.0 279.6h0M385.8 304.4h0M429.5 238.1h0M381.6 289.7h0M412.6 246.8h0M427.6 254.2h0M408.7 303.7h0M384.1 245.4h0M387.0 282.2h0M385.2 270.6h0M391.1 271.3h0M427.4 237.6h0M425.8 237.7h0M405.1 321.7h0M409.3 242.9h0M381.7 299.8h0M390.1 271.5h0M408.4 293.2h0M389.3 278.9h0M391.4 267.9h0M384.8 277.1h0M406.7 254.3h0M392.1 271.7h0M376.5 249.3h0M381.6 290.6h0M373.0 238.3h0M401.1 266.7h0M400.4 304.8h0M404.9 262.3h0M389.5 313.0h0M408.0 253.3h0M401.5 289.6h0M406.2 300.2h0M398.2 277.0h0M384.9 256.1h0" stroke="#1E97D8" stroke-width="3.20" stroke-linecap="round" fill="none" filter="url(#bl)"/>
<path d="M285.1 158.9h0M301.6 161.4h0M294.3 154.7h0M284.2 166.8h0M301.2 175.4h0M297.1 166.3h0M297.3 175.3h0M359.7 173.7h0M312.7 155.9h0M339.2 170.5h0M306.0 158.3h0M318.4 153.6h0M351.1 178.8h0M314.5 165.1h0M310.0 161.1h0M289.9 136.0h0M279.7 126.9h0M320.0 159.8h0M302.9 151.4h0M293.9 142.2h0M344.5 180.0h0M284.7 140.5h0M288.3 170.9h0M303.5 171.5h0M355.6 177.2h0M285.4 151.3h0M331.4 192.7h0M286.9 137.2h0M280.4 143.4h0M284.3 157.2h0M323.0 159.9h0M324.6 161.7h0M339.4 169.7h0M290.7 143.4h0M315.7 176.2h0M289.3 154.7h0M345.9 178.2h0M298.9 170.3h0M332.2 175.0h0M335.8 191.1h0M274.3 167.2h0M294.2 173.6h0M301.5 176.0h0M277.3 132.8h0M305.5 156.9h0M285.5 157.7h0M352.2 174.9h0M285.1 135.7h0M309.2 146.8h0M276.2 141.2h0M279.6 144.4h0M277.1 137.1h0M286.7 166.1h0M319.1 157.4h0M342.1 181.2h0M309.8 161.0h0M297.8 168.7h0M336.7 183.1h0M282.5 163.8h0M299.5 143.1h0M286.8 165.8h0M275.9 142.3h0M288.8 151.3h0M353.6 180.6h0M318.4 158.5h0M293.7 133.7h0M287.3 140.8h0M291.5 130.4h0M310.7 167.8h0M319.2 149.5h0M355.4 170.5h0M297.7 162.2h0M276.6 160.1h0M336.8 171.7h0M308.2 159.3h0M311.4 165.5h0M304.6 173.1h0M314.8 153.8h0M336.0 178.8h0M348.0 179.1h0M309.6 152.0h0M321.1 158.0h0M279.2 133.3h0M282.0 143.1h0M344.1 185.4h0M272.1 130.7h0M348.5 189.4h0M291.8 169.4h0M338.0 188.6h0M303.7 153.1h0M308.3 154.0h0M349.1 170.4h0M276.0 138.0h0M298.8 171.0h0M276.4 165.8h0M342.4 190.2h0M290.1 139.5h0M279.4 131.0h0M336.2 173.6h0M347.4 175.8h0M280.6 143.6h0M288.4 144.8h0M296.6 168.2h0M332.4 190.7h0M349.8 169.6h0M293.4 169.8h0M309.0 145.5h0M281.8 146.0h0M303.8 167.4h0M298.1 136.3h0M271.2 203.5h0M294.4 171.7h0M311.5 176.2h0M276.1 197.5h0M318.1 169.1h0M291.3 162.7h0M347.8 186.3h0M280.6 132.8h0M347.3 189.6h0M310.7 170.8h0M289.0 173.8h0M279.8 159.7h0M279.9 157.6h0M344.8 181.8h0" stroke="#A987E0" stroke-width="3.20" stroke-linecap="round" fill="none" filter="url(#bl)"/>
<path d="M494.0 409.7h0M481.3 414.8h0M493.5 407.1h0M483.4 416.3h0M497.4 409.5h0M504.8 391.3h0M503.0 390.3h0M511.8 399.5h0M495.4 399.6h0M497.4 395.0h0M504.2 402.7h0M500.9 388.0h0M487.9 391.3h0M484.5 390.7h0M488.1 405.2h0M482.9 400.0h0M502.8 408.7h0M499.0 402.0h0M486.4 398.8h0M489.2 418.5h0M482.7 406.1h0M499.2 403.9h0M503.4 404.6h0M498.5 387.7h0M501.0 405.4h0M511.0 407.5h0M506.6 395.0h0M498.3 404.3h0M501.1 410.2h0M494.8 403.9h0M489.9 396.9h0M489.3 403.7h0M478.9 412.2h0M507.6 395.9h0M506.1 390.1h0M495.3 406.7h0M498.3 412.1h0M492.6 425.9h0M497.5 401.4h0M485.8 387.2h0M500.2 394.5h0M506.0 394.6h0M485.8 394.0h0M510.7 401.9h0M507.1 401.4h0M504.8 399.5h0M497.0 387.5h0M496.2 434.1h0M496.5 426.9h0M489.7 393.2h0M506.3 394.3h0M487.1 407.9h0M506.0 386.7h0M498.6 437.6h0M499.7 391.8h0M512.8 405.0h0" stroke="#D471D1" stroke-width="3.20" stroke-linecap="round" fill="none" filter="url(#bl)"/>
<path d="M309.1 414.4h0M314.4 393.4h0M311.3 299.3h0M319.8 386.9h0M316.5 387.1h0M309.7 413.9h0M306.0 383.6h0M308.5 387.7h0M310.9 389.3h0M314.0 379.8h0M304.7 391.3h0M317.3 376.7h0M317.1 384.0h0M317.0 379.9h0M317.6 380.7h0M339.9 376.1h0M310.4 386.4h0M308.4 389.2h0" stroke="#DF6DAA" stroke-width="3.20" stroke-linecap="round" fill="none" filter="url(#bl)"/>
<path d="M142.6 198.1h0M144.4 187.7h0M154.0 198.2h0M143.3 192.5h0M146.6 190.0h0M151.7 193.0h0" stroke="#A29923" stroke-width="3.20" stroke-linecap="round" fill="none" filter="url(#bl)"/>
<path d="M797.9 465.0h0M798.1 509.3h0M828.6 545.4h0M898.4 437.5h0M755.7 511.7h0M786.4 495.0h0M878.8 419.7h0M863.4 447.8h0M857.5 446.9h0M844.3 507.2h0M838.1 536.1h0M878.4 426.1h0M842.9 429.7h0M784.1 494.9h0M856.7 462.1h0M884.8 413.4h0M883.1 431.1h0M789.9 496.3h0M795.9 506.6h0M834.1 525.5h0M786.9 454.0h0M850.7 501.4h0M841.5 537.7h0M847.8 423.5h0M885.9 417.2h0M765.9 484.0h0M831.4 495.8h0M871.3 422.6h0M886.2 413.0h0M868.2 407.2h0M846.2 524.9h0M778.0 534.2h0M823.0 461.3h0M802.9 522.1h0M795.2 448.9h0M821.6 459.7h0M760.3 521.4h0M841.3 440.2h0M893.2 416.5h0M860.1 515.9h0M862.8 458.6h0M850.6 506.7h0M834.1 440.0h0M828.7 542.5h0M831.8 557.7h0M850.1 527.2h0M821.7 460.6h0M859.1 468.8h0M808.4 458.5h0M792.5 515.9h0M841.2 440.6h0M844.3 426.2h0M833.9 555.7h0M779.0 497.7h0M790.8 489.3h0M765.9 539.1h0M834.4 470.0h0M842.1 559.1h0M851.0 527.0h0M876.3 454.7h0M768.8 546.0h0M880.7 418.8h0M862.0 496.2h0M822.8 501.2h0M799.4 520.9h0M758.5 518.0h0M822.9 413.8h0M810.9 461.4h0M851.1 500.7h0M815.1 420.9h0M871.5 437.6h0M810.5 448.3h0M831.5 497.5h0M850.1 418.1h0M770.5 494.3h0M799.5 466.0h0M860.6 476.2h0M855.6 508.8h0M782.2 479.3h0M798.4 461.2h0M892.8 449.3h0M760.1 528.4h0M790.8 519.1h0M784.8 535.9h0M812.3 494.0h0M784.7 529.4h0M848.4 434.7h0M824.5 421.9h0M799.2 497.3h0M862.6 476.7h0M763.3 512.3h0M833.3 549.7h0M841.4 450.2h0M806.5 524.1h0M893.0 446.0h0M788.0 541.8h0M791.6 476.4h0M874.1 494.7h0M839.6 483.5h0M762.6 521.3h0M858.5 472.4h0M856.7 429.0h0M819.8 482.0h0M780.3 534.4h0M777.5 511.4h0M780.0 533.1h0M805.7 526.2h0M840.6 449.1h0M768.2 502.2h0M758.5 529.8h0M869.4 417.7h0M771.4 479.3h0M849.8 452.9h0M860.7 481.7h0M864.3 514.1h0M872.7 408.4h0M763.2 532.0h0M850.2 443.3h0M863.0 472.0h0M830.9 507.6h0M821.4 509.7h0M773.0 525.1h0M778.5 507.0h0M850.9 457.1h0M873.0 411.8h0M820.0 505.4h0M824.3 469.4h0M769.2 505.0h0M828.7 501.1h0M879.7 444.0h0M840.9 463.7h0M816.1 418.7h0M840.6 548.4h0M858.0 491.2h0M843.2 534.1h0M763.0 504.7h0M816.6 479.5h0M833.5 530.4h0M865.9 499.6h0M774.8 506.6h0M844.3 515.3h0M862.5 488.2h0M840.5 458.1h0M835.8 450.0h0M850.4 425.1h0M869.2 429.4h0M796.2 454.3h0M794.7 476.5h0M838.2 490.4h0M841.8 485.1h0M777.0 523.4h0M863.2 468.8h0M753.5 533.6h0M806.8 507.4h0M803.8 532.7h0M868.7 488.8h0M839.9 473.0h0M801.3 503.8h0M862.2 486.9h0M854.6 493.3h0M871.8 449.0h0M802.8 537.5h0M859.9 515.9h0M850.1 465.2h0M823.6 500.5h0M764.6 510.9h0M800.0 541.9h0M882.7 414.9h0M776.9 482.7h0M774.0 530.5h0M843.9 520.7h0M893.5 439.6h0M791.3 506.2h0M815.5 513.2h0M768.6 487.4h0M841.7 446.5h0M800.3 479.7h0M877.2 407.8h0M875.0 444.2h0M786.9 457.7h0M824.0 505.9h0M779.8 526.2h0M797.5 493.8h0M783.8 508.4h0M868.8 465.6h0M785.8 476.1h0M771.3 499.8h0M891.2 452.0h0M860.3 490.1h0M867.1 431.2h0M870.3 451.1h0M824.9 527.9h0M837.2 437.7h0M807.3 455.6h0M807.4 508.1h0M776.4 500.1h0M817.8 527.6h0M847.3 538.4h0M851.1 427.3h0M791.9 495.6h0M815.9 524.4h0M882.9 428.4h0M799.6 528.1h0M804.1 529.9h0M848.9 469.6h0M791.9 542.4h0M876.0 413.8h0M802.5 465.9h0M859.7 465.2h0M775.2 475.2h0M842.2 498.4h0M816.0 449.9h0M799.6 494.3h0M796.0 532.1h0M842.0 524.7h0M796.4 493.6h0M817.8 477.1h0M806.4 523.6h0M859.4 475.0h0M878.0 410.3h0M812.8 458.4h0M750.5 527.6h0M867.7 414.8h0M879.2 420.0h0M870.0 481.6h0M865.5 487.1h0M888.4 423.5h0M895.6 434.5h0M873.3 416.6h0M885.7 436.3h0M862.4 484.9h0M828.7 543.7h0M866.9 469.5h0M864.2 437.4h0M768.2 503.8h0M768.4 527.7h0M885.0 424.6h0M847.4 543.3h0M859.3 481.4h0M799.2 528.7h0M846.1 461.7h0M882.7 432.4h0M858.0 411.8h0M874.8 456.6h0M858.8 427.7h0M878.0 413.0h0M788.2 536.2h0M862.6 420.3h0M878.6 442.9h0M851.3 546.8h0M829.6 499.0h0M863.5 515.1h0M821.9 473.1h0M856.9 442.8h0M843.3 506.7h0M841.6 527.2h0M836.0 501.0h0M801.3 475.8h0M838.6 440.2h0M763.4 500.5h0M875.8 491.4h0M823.5 493.2h0M803.7 497.2h0M802.9 457.2h0M806.0 501.0h0M858.0 508.0h0M832.3 549.2h0M853.4 513.0h0M893.1 425.1h0M857.9 462.5h0M834.2 471.7h0M870.2 504.5h0M851.8 432.5h0M783.3 505.6h0M783.6 484.5h0M860.2 491.1h0M822.5 524.0h0M872.3 454.4h0M843.8 448.4h0M781.4 508.7h0M879.3 418.9h0M888.5 416.1h0M817.6 529.0h0M836.8 552.7h0M762.6 516.5h0M867.2 427.5h0M843.1 437.9h0M774.3 543.5h0M832.1 533.6h0M848.4 460.7h0M805.1 495.0h0M853.1 463.3h0M867.3 425.5h0M865.5 492.4h0M763.1 523.8h0M839.8 543.4h0M828.3 525.5h0M820.4 514.6h0M826.0 528.6h0M850.5 484.5h0M870.7 426.7h0M886.7 446.1h0M797.1 449.8h0M874.4 452.8h0M825.5 518.4h0M871.1 476.1h0M816.8 424.1h0M844.2 445.8h0M867.6 475.5h0M783.7 471.6h0M861.9 484.4h0M801.7 508.8h0M873.6 489.2h0M782.3 489.9h0M813.3 467.0h0M800.3 455.9h0M855.2 434.0h0M818.9 500.3h0M763.4 497.8h0M833.4 473.1h0M868.5 441.5h0M786.6 527.0h0M811.6 496.2h0M865.3 486.4h0M789.7 542.4h0M803.1 526.5h0M795.0 449.3h0M793.1 466.6h0M860.0 493.5h0M836.0 560.2h0M851.3 443.8h0M864.4 469.7h0M849.1 428.0h0M814.1 459.1h0M789.5 491.6h0M781.5 526.9h0M868.6 477.8h0M761.4 544.2h0M802.8 464.2h0M766.7 500.9h0M822.2 521.9h0M834.6 487.3h0M816.6 450.4h0M802.0 476.0h0M770.4 535.5h0M868.9 423.2h0M758.3 508.2h0M855.2 533.3h0M855.9 434.4h0M842.1 486.1h0M875.2 437.2h0M837.4 524.0h0M821.5 514.4h0M876.6 504.5h0M851.4 523.1h0M821.5 417.4h0M855.2 520.5h0M807.1 523.1h0M840.8 481.4h0M809.7 493.7h0M857.8 475.5h0M866.4 432.3h0M859.9 424.1h0M780.3 519.0h0M841.7 519.0h0M840.4 490.7h0M749.4 538.0h0M803.3 475.3h0M833.0 495.6h0M827.0 519.0h0M846.7 509.0h0M834.4 546.3h0M843.5 522.8h0M827.2 463.5h0M806.7 514.4h0M859.2 519.7h0M818.5 515.6h0M830.1 517.1h0M814.1 491.1h0M853.4 481.4h0M831.9 470.3h0M856.0 455.8h0M777.4 532.3h0M796.0 464.4h0M788.2 492.3h0M814.1 532.4h0M795.7 468.2h0M890.1 434.7h0M819.2 518.4h0M770.7 527.5h0M810.6 457.6h0M851.9 539.6h0M808.8 524.3h0M848.9 491.3h0M775.4 521.4h0M808.3 487.5h0M764.8 510.3h0M750.8 534.5h0M888.2 418.0h0M847.9 477.8h0M828.4 522.5h0M809.6 532.5h0M871.0 497.4h0M898.3 426.2h0M807.3 516.5h0M841.8 528.9h0M891.8 448.2h0M831.0 467.1h0M822.2 507.7h0M840.3 432.3h0M846.5 440.4h0M818.6 493.4h0M787.5 513.4h0M830.6 461.7h0M837.6 432.7h0M831.3 481.8h0M764.6 533.0h0M833.9 562.0h0M830.7 542.5h0M782.7 464.0h0M823.6 493.9h0M862.5 428.6h0M783.4 538.4h0M879.7 464.5h0M821.3 518.8h0M814.8 504.6h0M779.2 540.3h0M855.6 466.7h0M870.7 432.2h0M815.2 518.5h0M815.9 479.5h0M858.6 535.8h0M878.7 418.5h0M818.8 462.6h0M851.8 543.2h0M847.5 500.8h0M829.2 529.7h0M852.1 538.6h0M819.8 501.1h0M850.3 545.4h0M843.9 467.4h0M758.5 513.3h0M874.0 432.3h0M856.6 457.1h0M769.8 518.7h0M771.9 532.7h0" stroke="#DA7B75" stroke-width="3.20" stroke-linecap="round" fill="none" filter="url(#bl)"/>
<path d="M606.9 444.5h0M688.7 501.4h0M657.5 481.1h0M621.3 381.0h0M642.6 441.9h0M631.5 386.5h0M621.8 438.6h0M631.1 457.5h0M656.5 454.0h0M611.7 410.5h0M691.8 506.5h0M647.2 456.8h0M624.2 493.0h0M623.9 392.2h0M664.9 468.6h0M648.0 432.4h0M603.1 439.2h0M640.0 386.9h0M628.1 467.0h0M646.4 471.0h0M616.3 419.2h0M609.9 445.8h0M619.8 460.2h0M623.2 450.1h0M650.6 410.6h0M688.7 442.1h0M619.7 476.1h0M628.5 414.0h0M610.7 423.6h0M612.6 493.9h0M633.4 399.0h0M695.0 503.1h0M606.5 382.4h0M635.0 435.5h0M612.1 412.4h0M634.2 483.3h0M633.8 493.3h0M657.4 485.3h0M613.9 478.6h0M614.2 383.7h0M612.8 471.7h0M646.9 464.5h0M611.5 484.9h0M630.6 492.0h0M636.2 416.8h0M659.5 400.7h0M636.3 425.5h0M643.3 424.3h0M664.5 433.3h0M609.8 384.1h0M694.7 503.8h0M653.3 438.3h0M638.5 420.3h0M649.7 462.2h0M635.9 391.8h0M613.6 375.3h0M630.8 419.5h0M645.5 485.8h0M631.9 387.2h0M649.3 445.9h0M660.5 419.0h0M635.1 387.4h0M695.5 510.6h0M603.3 451.2h0M624.0 456.7h0M649.3 474.8h0M607.7 389.7h0M604.1 405.7h0M651.6 449.5h0M625.1 463.5h0M621.6 496.3h0M609.5 487.9h0M617.9 486.0h0M654.4 433.3h0M690.4 478.5h0M653.8 469.1h0M698.0 495.0h0M617.1 478.1h0M690.6 505.8h0M697.8 498.9h0M646.0 484.3h0M625.2 384.8h0M650.6 423.2h0M655.3 431.0h0M653.2 412.1h0M621.6 473.5h0M639.6 470.8h0M634.2 415.8h0M647.3 403.1h0M631.8 395.3h0M654.7 394.4h0M624.0 398.8h0M665.3 474.9h0M691.4 480.0h0M636.6 406.6h0M617.5 423.8h0M658.3 435.8h0M626.2 414.0h0M598.1 450.9h0M661.7 439.4h0M618.7 463.1h0M616.8 459.1h0M630.4 488.5h0M637.0 487.6h0M645.0 408.4h0M648.1 454.4h0M642.2 497.6h0M617.9 380.9h0M607.0 405.9h0M606.9 435.4h0M632.5 432.4h0M604.6 396.6h0M608.1 410.5h0M611.8 414.5h0M692.3 501.6h0M665.1 401.1h0M618.3 438.7h0M624.1 483.2h0M643.7 434.6h0M614.4 443.0h0M615.2 436.2h0M683.5 444.7h0M632.9 426.2h0M649.6 470.7h0M700.7 496.8h0M610.1 432.2h0M668.6 467.3h0M608.5 482.8h0M614.4 447.2h0M613.1 414.2h0M700.2 487.4h0M658.5 450.6h0M619.1 424.5h0M644.0 435.6h0M653.6 454.4h0M611.5 465.5h0M653.7 479.4h0M626.2 449.3h0M610.7 462.0h0M634.5 464.8h0M653.2 391.6h0M702.6 487.7h0M622.7 414.3h0M607.2 462.1h0M638.4 407.2h0M611.7 475.0h0M633.3 455.9h0M654.9 445.0h0M622.6 462.4h0M652.8 467.4h0M651.9 461.7h0M629.2 472.7h0M633.5 495.7h0M631.9 400.5h0M618.6 422.7h0M605.0 440.8h0M631.9 485.5h0M646.9 462.6h0M607.5 407.0h0M638.0 440.7h0M605.9 476.8h0M625.7 375.8h0M670.5 478.7h0M646.5 460.4h0M637.2 425.6h0M614.8 480.5h0M642.7 407.1h0M631.8 424.6h0M647.0 480.5h0M646.0 463.3h0M631.1 429.5h0M708.2 473.3h0M698.2 507.4h0M664.2 467.9h0M629.9 476.7h0M686.5 500.6h0M607.4 412.9h0M612.2 424.8h0M634.0 465.9h0M668.4 488.6h0M641.6 407.7h0M622.6 380.2h0M610.4 383.8h0M648.7 471.7h0M682.7 474.6h0M655.8 476.6h0M654.0 431.2h0M613.5 468.8h0M665.6 457.8h0M643.8 460.0h0M693.6 502.4h0M637.2 462.7h0M607.1 485.4h0M628.2 471.5h0M623.7 487.0h0M663.7 451.7h0M658.0 406.4h0M646.9 461.1h0M605.4 477.6h0M689.1 498.9h0M676.7 442.3h0M611.9 472.6h0M618.0 418.8h0M642.3 410.5h0M611.2 433.0h0M615.0 476.6h0M649.2 431.3h0M643.9 402.6h0M669.1 473.9h0M658.9 430.0h0M645.8 433.3h0M620.7 428.8h0M644.4 392.2h0M626.3 429.3h0M602.9 469.4h0M637.6 493.7h0M610.2 469.6h0M610.1 471.2h0M698.9 476.1h0M639.0 409.3h0M606.9 443.2h0M631.5 496.4h0M669.8 480.9h0M695.7 503.0h0M690.5 494.6h0M613.1 415.2h0M664.2 467.4h0M610.1 457.0h0M622.0 428.9h0M609.3 472.1h0M646.8 450.4h0M681.9 471.5h0M653.6 393.0h0M704.8 488.5h0M621.1 382.7h0M623.9 376.0h0M652.8 410.8h0M669.5 490.7h0M614.3 467.1h0M647.1 451.5h0M638.8 414.8h0M620.7 483.7h0M621.4 375.2h0M634.5 487.4h0M631.9 472.2h0M673.1 485.0h0M687.0 507.8h0M613.7 396.2h0M633.3 488.6h0M626.1 462.3h0M609.0 466.8h0M618.2 426.2h0M636.7 497.3h0M660.5 491.7h0M613.2 464.3h0M627.6 488.7h0M636.9 476.4h0M611.1 405.6h0M620.0 495.0h0M605.4 430.6h0M671.3 487.8h0M633.1 449.0h0M696.0 513.1h0M648.9 497.4h0M617.7 494.8h0M609.4 446.0h0M633.4 471.7h0M657.5 407.3h0M615.0 489.4h0M657.3 443.0h0M634.9 406.5h0M613.3 401.9h0M668.6 461.2h0M645.0 492.2h0M619.2 394.7h0M660.2 464.6h0M660.7 407.4h0M630.1 421.7h0M636.9 417.0h0M608.5 461.1h0M641.9 397.7h0M627.6 395.5h0M658.2 451.6h0M641.2 455.8h0M647.8 423.8h0M616.8 457.0h0M647.8 489.3h0M640.7 491.4h0M643.1 475.0h0M635.2 495.7h0M605.5 409.2h0M598.1 456.8h0M673.7 479.7h0M643.0 482.2h0M673.4 464.7h0M634.0 470.3h0M627.7 489.5h0M689.2 499.0h0M648.3 476.6h0M664.1 447.9h0M652.5 402.7h0M649.6 423.2h0M696.3 510.4h0M623.5 403.0h0M614.9 486.6h0M658.7 488.6h0M671.5 454.5h0M664.1 463.2h0M643.0 476.3h0M612.2 397.7h0M624.9 414.6h0M658.6 421.1h0M644.3 401.7h0M651.0 445.7h0M668.1 479.4h0M639.3 437.9h0M608.3 405.9h0M623.0 491.6h0M617.8 424.7h0M654.0 469.6h0M606.7 469.0h0M632.9 483.4h0M621.3 433.8h0M694.3 512.2h0M640.5 449.3h0M616.6 495.2h0M669.4 467.2h0M692.7 499.3h0" stroke="#C38B24" stroke-width="3.20" stroke-linecap="round" fill="none" filter="url(#bl)"/>
<path d="M814.8 305.1h0M845.2 346.2h0M841.3 295.2h0M811.1 361.6h0M799.1 336.8h0M818.7 327.7h0M761.0 334.9h0M810.7 293.5h0M755.3 337.2h0M846.6 321.0h0M788.7 348.8h0M752.2 355.6h0M816.0 368.4h0M790.1 361.4h0M844.9 342.7h0M763.7 331.9h0M854.8 328.3h0M789.8 281.5h0M851.3 333.4h0M820.6 371.5h0M858.9 348.6h0M820.5 356.8h0M812.5 273.8h0M764.6 343.4h0M841.6 366.7h0M808.4 362.3h0M748.2 331.4h0M761.1 336.1h0M834.3 333.2h0M825.5 298.5h0M843.1 289.9h0M766.8 329.4h0M830.2 338.4h0M786.5 351.9h0M784.5 271.1h0M811.9 329.3h0M773.9 344.1h0M760.0 351.4h0M776.2 359.0h0M802.2 284.1h0M753.7 338.3h0M817.1 360.4h0M826.0 294.3h0M833.3 326.8h0M744.3 329.7h0M832.3 312.3h0M806.2 299.1h0M790.2 332.5h0M758.3 332.5h0M807.7 349.7h0M825.4 312.6h0M815.8 357.0h0M749.6 342.2h0M831.0 367.6h0M838.0 323.7h0M779.7 261.8h0M782.7 268.2h0M807.5 357.5h0M774.3 349.7h0M781.8 266.8h0M798.7 361.6h0M814.6 361.8h0M822.5 339.7h0M840.4 300.9h0M781.5 328.5h0M784.5 270.1h0M852.3 340.6h0M833.4 373.5h0M822.1 363.1h0M727.8 311.8h0M820.5 338.1h0M850.0 339.2h0M857.3 355.8h0M861.0 341.4h0M861.5 339.4h0M778.3 328.7h0M777.8 358.8h0M808.5 359.8h0M796.9 293.5h0M757.3 352.9h0M809.9 326.0h0M782.2 270.2h0M817.7 276.7h0M824.3 285.8h0M791.9 346.7h0M815.7 337.7h0M796.0 339.8h0M845.0 294.1h0M773.7 347.7h0M753.1 339.6h0M806.2 283.0h0M800.1 345.8h0M773.0 336.3h0M847.3 343.6h0M845.9 321.3h0M771.5 358.8h0M838.1 367.3h0M805.0 326.9h0M802.9 272.9h0M809.4 354.3h0M756.4 353.9h0M817.2 350.4h0M839.8 347.7h0M832.5 354.4h0M756.1 332.9h0M787.0 348.3h0M758.7 354.3h0M854.9 364.5h0M748.6 345.2h0M781.4 268.6h0M836.8 315.7h0M774.5 334.1h0M848.5 332.6h0M810.4 362.3h0M835.6 312.9h0M772.6 359.5h0M820.8 318.4h0M751.3 356.4h0M821.6 305.2h0M815.0 336.1h0M813.7 361.4h0M852.8 337.0h0M817.0 320.1h0M794.3 323.2h0M824.2 294.1h0M817.1 278.0h0M801.8 288.8h0M813.9 272.7h0M747.4 335.5h0M829.9 377.7h0M765.3 341.1h0M760.8 337.6h0M830.4 368.9h0M804.4 291.9h0M832.7 311.5h0M837.4 331.2h0M766.9 356.4h0M738.8 324.1h0M773.6 333.9h0M823.7 294.4h0M836.5 303.6h0M788.5 276.2h0M818.2 344.5h0M817.7 318.9h0M815.6 287.6h0M777.1 267.2h0M833.3 343.3h0M832.9 372.4h0M819.6 370.5h0M739.2 327.3h0M798.7 339.9h0M757.3 356.1h0M811.8 288.4h0M833.6 352.2h0M811.9 293.8h0M833.4 329.5h0M849.5 318.8h0M800.6 289.0h0M808.5 322.0h0M765.0 341.0h0M767.2 324.2h0M791.8 275.3h0M796.7 345.5h0M808.0 374.1h0M748.0 329.9h0M733.8 326.2h0M818.0 290.9h0M816.3 281.2h0M838.1 366.6h0M747.7 347.0h0M829.7 324.7h0M753.9 326.3h0M811.9 294.2h0M771.9 353.5h0M762.0 350.6h0M753.7 338.9h0M775.7 334.7h0M812.7 324.9h0M806.5 293.4h0M852.0 348.2h0M788.3 332.1h0M795.0 329.5h0M817.1 272.8h0M837.0 323.0h0M754.1 334.8h0M820.2 343.1h0M748.6 351.3h0M826.9 339.0h0M831.1 344.7h0M749.5 322.2h0M755.8 329.7h0M818.4 309.8h0M819.1 351.1h0M805.6 330.4h0M823.3 361.4h0M815.5 332.5h0M772.3 351.3h0M858.2 356.0h0M853.3 355.0h0M842.4 343.2h0M839.5 284.4h0M798.6 352.5h0M791.4 274.8h0M808.7 276.2h0M787.9 353.5h0M812.5 300.9h0M806.0 314.9h0M800.7 347.0h0M801.3 295.1h0M751.1 327.4h0M746.6 325.3h0M819.0 333.3h0M781.8 325.9h0M803.3 340.6h0M808.5 330.7h0M846.1 352.0h0M811.6 284.4h0M839.9 305.0h0M831.2 295.0h0M751.8 339.8h0M755.0 323.7h0M810.5 296.9h0M755.3 364.7h0M758.3 330.9h0M806.2 289.2h0M795.3 319.1h0M798.3 359.2h0M824.0 317.2h0M816.1 283.9h0M834.5 288.2h0M841.3 344.7h0M755.5 339.1h0M797.7 349.3h0M811.6 323.1h0M827.1 298.1h0M833.6 351.6h0M761.5 327.6h0M745.5 329.1h0M808.6 300.2h0M856.8 354.3h0M826.8 371.2h0M852.2 338.5h0M744.2 334.6h0M813.1 367.0h0M818.4 277.8h0M846.1 340.1h0M844.3 326.5h0M815.8 320.7h0M760.6 344.5h0M788.7 322.7h0M831.5 284.7h0M807.6 347.0h0M817.2 345.5h0M845.7 360.5h0M758.7 336.0h0M776.2 352.6h0M793.3 286.9h0M766.4 360.8h0M807.8 370.3h0M760.2 326.8h0M820.1 350.4h0M815.6 350.8h0M740.2 337.3h0M822.1 314.5h0M817.2 359.3h0M848.7 301.6h0M754.3 334.7h0M772.5 363.0h0M771.6 329.6h0M793.5 356.2h0M802.5 314.1h0M844.3 363.8h0M854.3 350.7h0M746.4 337.9h0M728.9 317.9h0M757.3 340.9h0M758.6 358.5h0M757.6 338.6h0M805.9 314.4h0M818.2 298.1h0M832.4 266.3h0M822.2 362.4h0M843.9 303.7h0M753.2 332.5h0M850.7 343.5h0M752.3 355.7h0M805.7 284.5h0M798.4 283.9h0M798.2 344.1h0M768.8 359.4h0" stroke="#69A220" stroke-width="3.20" stroke-linecap="round" fill="none" filter="url(#bl)"/>
<path d="M573.9 299.3h0M649.6 309.9h0M586.4 302.1h0M612.8 323.9h0M597.8 300.5h0M641.1 317.1h0M585.4 298.2h0M640.9 282.5h0M674.6 325.8h0M641.1 298.0h0M670.3 324.9h0M646.1 314.6h0M623.4 324.6h0M686.0 286.2h0M637.2 308.5h0M639.1 300.8h0M589.5 288.6h0M576.0 297.1h0M595.2 301.3h0M599.7 312.5h0M621.9 297.5h0M635.8 297.4h0M636.6 308.9h0M647.7 299.7h0M639.9 308.7h0M639.6 306.8h0M571.8 294.1h0M621.5 296.3h0M623.7 305.2h0M690.9 291.7h0M574.9 300.6h0M591.7 292.2h0M589.1 288.9h0M635.6 326.1h0M618.8 306.1h0M613.1 293.9h0M576.5 290.8h0M581.1 288.6h0M600.3 324.8h0M607.4 330.9h0M622.5 280.0h0M641.6 283.9h0M630.3 286.0h0M682.8 319.6h0M595.3 291.1h0M604.4 315.0h0M631.5 324.9h0M679.0 330.8h0M584.7 311.9h0M619.1 285.7h0M589.0 304.6h0M571.6 305.2h0M614.3 319.9h0M625.7 286.1h0M626.1 307.8h0M611.2 319.8h0M620.0 284.5h0M642.6 308.5h0M592.5 288.7h0M575.3 308.3h0M640.0 299.1h0M581.9 298.1h0M680.4 316.9h0M575.8 302.3h0M665.5 329.1h0M579.9 309.7h0M617.4 301.0h0M573.4 310.1h0M680.3 319.3h0M621.3 302.1h0M624.0 320.8h0M640.0 307.3h0M631.1 313.0h0M630.4 277.3h0M599.9 319.3h0M616.5 277.9h0M618.5 328.9h0M690.8 295.0h0M577.6 297.3h0M603.3 295.3h0M590.3 315.3h0M633.7 318.1h0M640.7 303.2h0M639.2 295.6h0M587.2 291.4h0M592.6 295.1h0M596.7 326.6h0M648.2 305.2h0M598.1 310.6h0M704.5 299.2h0M581.9 293.8h0M626.4 329.3h0M644.5 304.0h0M641.1 282.4h0M599.5 299.0h0M576.1 293.2h0M616.9 310.5h0M611.4 299.8h0M633.0 327.2h0M624.2 297.7h0M616.5 325.9h0M642.9 294.8h0M619.4 297.6h0M594.5 323.1h0M629.7 295.3h0M604.6 292.8h0M574.7 294.0h0M603.5 298.2h0M651.3 289.6h0M585.1 309.7h0M629.2 292.4h0M621.9 292.9h0M673.2 327.5h0M643.8 298.6h0M612.6 296.9h0M691.8 295.2h0M634.0 283.3h0M584.1 297.4h0M619.6 279.7h0M607.6 332.6h0M586.8 289.1h0M671.7 318.7h0M612.7 282.7h0M595.7 289.9h0M613.4 314.7h0M649.5 316.3h0M616.9 291.0h0M583.6 296.5h0M640.7 284.9h0M601.9 319.5h0M668.1 329.9h0M646.4 293.8h0M617.9 317.9h0M670.5 320.3h0M652.4 306.6h0M575.4 296.7h0M695.1 296.8h0M630.5 303.1h0M637.5 330.2h0M585.3 304.2h0M639.2 327.4h0M609.6 308.2h0M644.5 296.6h0M614.5 306.3h0M635.8 298.1h0M596.9 302.7h0M572.8 300.3h0M627.6 314.5h0M637.8 320.7h0M628.3 319.1h0M587.6 298.3h0M586.6 299.6h0M617.7 336.8h0M612.0 301.0h0M601.3 301.0h0M576.6 300.0h0M617.8 307.0h0M604.1 302.3h0M635.0 328.2h0M627.4 330.7h0M619.1 278.0h0M581.0 301.4h0M625.8 297.6h0M638.7 303.7h0M584.1 294.3h0M595.6 298.9h0M595.1 293.8h0M678.8 319.7h0M633.0 299.7h0M591.9 310.5h0M589.2 302.2h0M607.0 302.0h0M591.1 312.4h0M585.3 302.9h0M614.2 333.2h0M577.8 299.1h0M599.4 291.3h0M576.4 293.3h0M645.0 320.8h0M591.2 294.9h0M636.0 286.4h0M639.0 298.4h0" stroke="#1DA660" stroke-width="3.20" stroke-linecap="round" fill="none" filter="url(#bl)"/>
<path d="M716.0 382.0h0M726.3 410.9h0M717.8 418.4h0M716.6 400.4h0M672.3 416.4h0M732.6 414.6h0M706.2 395.7h0M722.4 396.0h0M697.5 392.1h0M683.4 394.9h0M681.2 393.6h0M685.5 391.1h0M716.6 392.5h0M713.1 386.8h0M711.4 376.8h0M694.5 400.1h0M739.3 399.6h0M667.3 407.1h0M721.6 379.0h0M690.6 376.8h0M672.0 386.2h0M727.4 407.9h0M713.1 398.9h0M688.9 424.1h0M681.4 395.9h0M730.3 386.1h0M709.8 411.5h0M690.9 402.8h0M679.5 357.5h0M704.6 404.9h0M685.8 384.2h0M678.1 423.8h0M714.7 394.5h0M681.2 393.4h0M704.2 424.6h0M723.6 415.0h0M689.7 413.6h0M719.3 382.3h0M699.9 375.1h0M697.6 475.8h0M731.4 414.9h0M677.2 417.8h0M700.5 437.6h0M706.6 435.7h0M673.8 406.9h0M711.0 393.1h0M729.3 395.8h0M695.6 403.4h0M672.1 405.3h0M694.9 382.8h0M710.7 411.4h0M693.6 411.2h0M735.8 399.3h0M713.1 406.9h0M731.8 395.1h0M698.1 446.7h0M721.8 376.4h0M694.9 431.7h0M670.8 409.2h0M698.1 473.9h0M716.6 378.9h0M710.5 432.6h0M682.0 382.6h0M680.1 383.4h0M713.5 392.1h0M694.2 365.0h0M706.3 373.4h0M678.7 387.0h0M706.4 407.9h0M700.3 430.1h0M678.5 399.3h0M713.2 388.1h0M702.0 368.0h0M716.0 409.8h0M716.2 407.9h0M707.7 371.9h0M699.6 425.0h0M665.8 409.4h0M711.2 424.9h0M702.2 379.1h0M701.9 473.4h0M692.4 401.7h0M686.3 384.6h0M737.1 410.8h0M698.2 376.0h0M720.4 403.7h0M712.9 473.9h0M729.2 418.7h0M724.2 429.6h0M735.6 398.5h0M739.5 405.5h0M702.5 369.2h0M706.5 393.6h0M705.1 408.1h0M703.1 404.1h0M732.9 399.2h0M683.9 424.3h0M697.8 420.3h0M698.5 430.4h0M712.7 400.8h0M679.0 377.9h0M735.0 414.1h0M728.9 399.7h0M687.8 451.3h0M723.6 386.1h0M713.0 430.7h0M718.8 375.0h0M695.5 413.9h0M727.5 412.5h0M719.7 386.8h0M729.9 395.2h0M692.7 437.7h0M685.2 399.7h0M695.2 385.4h0M686.0 379.6h0M700.1 411.4h0M686.8 415.3h0M713.2 433.0h0M723.4 418.1h0M694.9 390.0h0M687.0 404.5h0M724.1 412.7h0M704.5 421.9h0M723.9 378.1h0M729.1 410.4h0M692.5 401.1h0M702.7 484.3h0M722.4 402.6h0M706.2 414.5h0M693.2 395.4h0M718.4 412.0h0M734.0 419.2h0M690.9 400.7h0M697.0 425.4h0M728.7 390.4h0M681.5 431.6h0M703.4 402.5h0M705.4 448.8h0M700.3 479.1h0M727.1 396.0h0M696.5 398.2h0M691.8 432.5h0M726.9 417.8h0M735.3 421.8h0M707.8 427.1h0M737.0 400.4h0M711.5 386.5h0M724.8 397.7h0M716.2 388.2h0M706.9 434.7h0M705.3 404.5h0M683.6 381.1h0M697.0 422.0h0M698.7 389.0h0M680.8 389.6h0M697.4 389.8h0M682.4 384.3h0M700.0 388.1h0M738.8 402.1h0M687.2 429.7h0M704.3 411.0h0M679.5 382.0h0M731.2 385.6h0M695.8 437.9h0M727.3 416.6h0M700.0 381.8h0M711.1 435.2h0M673.1 383.7h0M681.4 424.0h0M696.9 417.4h0M731.0 404.4h0M684.9 411.5h0M712.2 416.9h0M707.6 399.1h0M734.3 428.2h0M738.4 406.8h0M689.6 408.2h0M707.6 418.9h0M722.6 399.5h0M713.1 382.7h0M709.7 413.6h0M710.0 430.8h0M700.4 379.3h0M698.9 378.6h0M711.8 427.2h0M678.9 388.3h0M700.5 378.7h0M686.5 412.2h0M698.6 434.1h0" stroke="#20AC99" stroke-width="3.20" stroke-linecap="round" fill="none" filter="url(#bl)"/>
<path d="M728.6 261.1h0M734.9 233.6h0M736.8 220.1h0M748.5 248.7h0M708.0 234.2h0M736.0 249.0h0M738.9 247.5h0M721.2 270.9h0M752.0 248.1h0M726.3 207.4h0M703.5 248.6h0M741.6 237.7h0M708.8 246.9h0M734.3 258.8h0M725.0 259.7h0M745.8 241.2h0M720.9 256.5h0M715.5 259.4h0M733.7 219.8h0M734.3 215.4h0M724.3 270.3h0M738.9 246.2h0M701.4 244.5h0M738.7 217.1h0M703.0 232.1h0M711.5 249.0h0M710.9 238.8h0M724.2 232.0h0M740.6 243.0h0M722.7 246.4h0M728.4 230.7h0M722.2 235.1h0M712.4 225.0h0M739.4 270.4h0M738.7 259.2h0M733.5 256.5h0M730.8 244.8h0M711.1 218.1h0M720.4 235.0h0M730.5 240.6h0M746.8 241.0h0M721.0 236.1h0M745.2 229.4h0M730.3 274.0h0M721.1 236.7h0M709.8 256.5h0M715.0 232.6h0M717.2 231.2h0M725.1 269.8h0M715.0 234.0h0M705.4 231.3h0M712.1 213.3h0M746.0 259.7h0M749.3 237.0h0M704.9 248.3h0M725.4 213.4h0M734.0 216.8h0M705.1 249.9h0M706.9 226.0h0M719.8 241.1h0M756.6 262.7h0M743.9 231.1h0M728.8 247.9h0M707.7 230.9h0M761.9 238.0h0M719.2 221.4h0M727.8 235.7h0M742.3 251.1h0M715.1 220.2h0M728.0 209.7h0M719.7 210.7h0M733.8 241.1h0M711.9 249.4h0M732.8 211.6h0M729.6 231.9h0M734.6 232.3h0M712.2 221.8h0M716.1 226.5h0M724.5 233.7h0M730.5 211.7h0M724.7 231.4h0M716.2 242.9h0M718.2 272.3h0M722.1 240.6h0M733.3 265.9h0M728.7 250.8h0M731.2 217.4h0M726.1 221.5h0M707.8 239.4h0M732.1 216.9h0M738.2 223.0h0M736.2 258.3h0M740.8 258.7h0M735.5 229.2h0M720.4 218.6h0M746.0 230.3h0M714.5 235.2h0M719.5 215.5h0M732.6 268.2h0M736.5 262.4h0M727.5 232.8h0M747.3 237.7h0M744.7 239.0h0M753.3 201.8h0M766.3 243.6h0M727.2 263.0h0M711.8 241.0h0M722.6 269.0h0M719.2 250.3h0M713.0 208.7h0M712.0 250.3h0M720.7 231.4h0M705.8 241.1h0M737.9 252.4h0M735.6 226.2h0M703.8 247.7h0M724.5 202.8h0M719.9 233.3h0M735.0 223.8h0M743.7 227.2h0M720.5 270.2h0M712.7 261.1h0M724.2 262.5h0M720.4 216.2h0M749.9 228.9h0M748.2 251.3h0M724.5 271.8h0M732.3 215.0h0M722.2 259.9h0M749.5 235.5h0M743.8 254.6h0M712.0 213.3h0M736.4 227.4h0M710.7 212.8h0M721.3 227.7h0M716.9 251.0h0M716.5 263.7h0M735.7 207.6h0M730.5 227.7h0" stroke="#20A7C2" stroke-width="3.20" stroke-linecap="round" fill="none" filter="url(#bl)"/>
<path d="M876.3 318.0h0M873.2 309.3h0M878.6 280.8h0M875.0 299.6h0M874.3 276.3h0M879.6 313.0h0M872.0 295.5h0M888.4 249.9h0M867.1 270.2h0M874.7 276.9h0M865.6 271.0h0M858.4 251.4h0M895.5 236.6h0M880.2 303.6h0M873.8 306.1h0M859.7 279.7h0M863.5 320.9h0M880.1 264.6h0M885.2 314.2h0M879.9 261.1h0M869.2 276.2h0M877.8 272.4h0M911.8 273.1h0M877.8 306.3h0M914.4 243.6h0M862.1 303.5h0M857.5 312.0h0M911.0 287.0h0M897.0 250.3h0M889.7 251.9h0M863.5 311.9h0M865.7 310.4h0M867.1 256.5h0M881.2 284.9h0M865.6 271.1h0M864.9 287.4h0M855.1 233.0h0M871.4 278.4h0M856.8 295.6h0M901.1 245.8h0M859.0 233.1h0M883.2 297.1h0M863.5 247.7h0M857.9 245.3h0M868.3 320.3h0M872.0 279.2h0M910.6 273.3h0M864.2 288.0h0M880.9 294.1h0M861.3 315.4h0M886.3 241.7h0M897.8 227.4h0M855.9 305.8h0M888.5 305.5h0M871.0 289.8h0M889.9 311.0h0M857.0 313.9h0M874.1 276.7h0M868.3 309.7h0M870.8 268.1h0M880.0 324.8h0M900.4 236.8h0M870.8 260.3h0M853.7 241.5h0M887.6 312.9h0M873.2 275.4h0M877.3 271.7h0M878.5 280.6h0M910.4 264.0h0M886.4 306.6h0M894.2 243.2h0M869.6 281.6h0M905.6 245.9h0M862.1 236.8h0M869.4 318.7h0M891.0 235.3h0M884.9 294.7h0M905.0 244.3h0M856.9 312.1h0M883.1 287.1h0M880.4 279.1h0M853.8 252.0h0M856.6 240.5h0M873.7 317.7h0M887.3 248.1h0M884.9 257.3h0M899.4 231.8h0M908.3 279.6h0M867.6 278.4h0M904.7 248.1h0M873.0 308.7h0M864.7 279.8h0M877.2 270.4h0M867.9 280.5h0M889.7 299.9h0M878.6 316.1h0M867.2 266.1h0M877.5 280.9h0M868.0 289.9h0M885.4 313.7h0M873.2 322.4h0M914.9 241.9h0M852.1 228.4h0M870.5 277.6h0M879.9 297.2h0M916.0 236.1h0M862.3 292.3h0M889.4 301.8h0M893.0 240.8h0M869.9 265.1h0M888.1 248.2h0M906.3 242.1h0M905.8 263.2h0M869.7 284.7h0M875.2 320.9h0M863.8 316.1h0M887.4 252.6h0M895.2 242.1h0M881.7 292.3h0M877.4 284.4h0M868.7 316.3h0M863.2 297.5h0M856.0 299.6h0M908.6 241.1h0M881.5 283.9h0M916.0 244.1h0M889.4 242.8h0M858.4 234.3h0M885.7 307.2h0M888.8 306.6h0M898.8 232.5h0M913.0 240.6h0M881.3 309.1h0M909.2 247.6h0M903.0 246.2h0M899.7 238.8h0M881.6 290.9h0M877.1 272.6h0M871.5 300.6h0M860.4 291.8h0M891.2 300.2h0M915.6 244.3h0M875.8 285.3h0M859.2 307.6h0M855.0 314.4h0M895.8 233.0h0M888.7 253.3h0M866.4 293.7h0M868.1 310.4h0M900.9 249.3h0" stroke="#1E97D8" stroke-width="3.20" stroke-linecap="round" fill="none" filter="url(#bl)"/>
<path d="M789.2 161.8h0M823.4 188.0h0M790.2 178.0h0M832.7 172.0h0M798.3 152.8h0M763.1 169.5h0M815.6 178.7h0M763.7 154.5h0M774.2 139.7h0M797.6 157.7h0M828.3 177.2h0M796.7 176.4h0M805.2 172.1h0M797.1 172.3h0M752.1 131.4h0M770.4 164.8h0M764.2 140.0h0M802.5 162.8h0M755.8 141.6h0M761.5 157.9h0M799.0 169.5h0M792.2 169.1h0M786.4 156.6h0M777.1 151.7h0M778.1 148.3h0M760.5 136.4h0M832.8 174.2h0M768.6 135.4h0M754.4 195.9h0M791.0 159.3h0M765.8 136.0h0M774.8 163.1h0M798.5 158.9h0M816.9 174.0h0M772.0 136.5h0M752.5 204.0h0M773.7 157.4h0M763.9 130.1h0M785.1 146.0h0M781.9 162.2h0M772.8 160.3h0M788.1 171.3h0M832.8 182.4h0M770.0 129.6h0M769.4 134.2h0M819.6 178.7h0M783.5 167.0h0M777.4 173.7h0M765.9 145.3h0M825.0 181.7h0M800.6 159.3h0M833.2 172.8h0M799.3 169.1h0M774.0 180.2h0M825.3 173.4h0M760.2 146.5h0M759.0 172.1h0M803.9 162.0h0M819.8 180.9h0M770.8 132.8h0M817.9 171.6h0M825.8 174.7h0M768.0 140.8h0M790.0 149.9h0M797.3 164.0h0M834.4 175.2h0M775.5 132.2h0M773.3 138.9h0M770.8 160.0h0M758.2 155.4h0M769.9 132.1h0M779.3 161.0h0M764.3 140.6h0M818.6 168.8h0M768.3 140.3h0M774.5 128.3h0M799.6 170.9h0M791.1 164.9h0M777.7 174.9h0M778.5 173.9h0M817.9 171.8h0M767.9 170.3h0M813.8 183.6h0M778.2 132.8h0M768.0 132.2h0M795.2 170.1h0M774.5 134.0h0M794.0 146.4h0M777.3 168.0h0M816.8 191.4h0M762.2 134.5h0M803.2 152.0h0M784.1 159.6h0M769.1 174.3h0M779.0 175.2h0M813.3 188.2h0M794.7 146.5h0M830.9 178.1h0M800.7 152.8h0M816.1 178.9h0M762.3 163.5h0M827.6 186.8h0M802.1 168.4h0M838.4 179.1h0M793.2 165.6h0M769.8 137.1h0M823.8 172.5h0M796.6 164.8h0M780.2 148.7h0M822.4 173.5h0M774.9 132.1h0M783.1 152.6h0M762.0 136.3h0M835.1 175.4h0M827.4 185.5h0M790.1 176.3h0M776.4 156.1h0M828.6 177.6h0M785.9 150.1h0M795.4 150.2h0M780.7 165.6h0M820.7 186.6h0M797.8 173.2h0M759.6 168.4h0" stroke="#A987E0" stroke-width="3.20" stroke-linecap="round" fill="none" filter="url(#bl)"/>
<path d="M982.0 386.7h0M961.7 410.0h0M978.0 408.8h0M972.3 411.5h0M967.3 393.0h0M977.7 392.6h0M965.2 418.3h0M958.2 422.1h0M972.5 403.0h0M977.1 391.3h0M995.3 399.5h0M965.2 405.8h0M978.4 432.6h0M976.1 390.2h0M979.5 424.9h0M979.5 398.2h0M987.6 408.9h0M965.9 417.8h0M984.5 409.4h0M955.1 410.7h0M957.8 402.0h0M972.6 425.4h0M966.3 411.4h0M972.5 390.1h0M961.9 390.0h0M981.1 388.8h0M964.9 397.9h0M979.7 423.5h0M994.0 403.9h0M982.9 406.7h0M968.1 394.4h0M973.0 407.9h0M961.5 420.3h0M964.5 397.4h0M971.8 395.1h0M964.9 414.0h0M984.4 408.6h0M983.7 398.0h0M972.0 393.1h0M970.4 414.8h0M978.5 389.0h0M989.9 393.6h0M978.5 385.8h0M964.3 394.4h0M982.2 393.0h0M963.2 396.7h0M961.9 407.9h0M960.6 418.4h0M966.2 386.6h0M973.3 398.4h0M984.6 393.9h0M982.1 410.3h0M975.4 398.8h0M958.6 417.9h0M983.6 406.0h0M972.4 385.7h0" stroke="#D471D1" stroke-width="3.20" stroke-linecap="round" fill="none" filter="url(#bl)"/>
<path d="M797.0 388.4h0M783.7 386.1h0M799.3 388.0h0M797.3 382.1h0M796.9 388.3h0M789.9 299.2h0M816.5 379.8h0M795.8 393.6h0M797.6 382.1h0M791.0 417.6h0M792.2 413.4h0M797.3 379.1h0M793.3 384.3h0M794.6 390.4h0M790.4 386.8h0M789.6 391.4h0M794.7 384.1h0M794.1 382.0h0" stroke="#DF6DAA" stroke-width="3.20" stroke-linecap="round" fill="none" filter="url(#bl)"/>
<path d="M627.6 190.3h0M624.6 188.6h0M622.8 193.1h0M635.9 198.2h0M623.5 197.1h0M632.8 190.7h0" stroke="#A29923" stroke-width="3.20" stroke-linecap="round" fill="none" filter="url(#bl)"/>
<g font-family="Liberation Sans" font-size="19" fill="#000">
<text x="306.0" y="164.0" text-anchor="middle" dominant-baseline="central">7</text>
<path d="M143.52 195.80 L141.85 195.80 L141.85 185.16 L141.24 185.73 L140.25 186.32 L139.27 186.91 L138.49 187.19 L138.49 185.58 L139.88 184.93 L140.92 184.00 L141.97 183.07 L142.40 182.20 L143.52 182.20Z"/>
<text x="147.00" y="195.80">0</text>
<text x="246.0" y="240.0" text-anchor="middle" dominant-baseline="central">5</text>
<text x="393.0" y="277.0" text-anchor="middle" dominant-baseline="central">6</text>
<text x="144.0" y="305.0" text-anchor="middle" dominant-baseline="central">3</text>
<text x="330.0" y="332.0" text-anchor="middle" dominant-baseline="central">2</text>
<text x="311.0" y="388.0" text-anchor="middle" dominant-baseline="central">9</text>
<text x="495.0" y="404.0" text-anchor="middle" dominant-baseline="central">8</text>
<text x="228.0" y="406.0" text-anchor="middle" dominant-baseline="central">4</text>
<path d="M164.80 461.80 L163.13 461.80 L163.13 451.16 L162.52 451.73 L161.54 452.32 L160.55 452.91 L159.77 453.20 L159.77 451.58 L161.16 450.93 L162.20 450.00 L163.25 449.07 L163.68 448.20 L164.80 448.20Z"/>
<text x="348.0" y="483.0" text-anchor="middle" dominant-baseline="central">0</text>
<text x="779.0" y="159.0" text-anchor="middle" dominant-baseline="central">7</text>
<path d="M624.52 197.80 L622.85 197.80 L622.85 187.16 L622.24 187.73 L621.25 188.32 L620.27 188.91 L619.49 189.19 L619.49 187.58 L620.88 186.93 L621.92 186.00 L622.97 185.07 L623.40 184.20 L624.52 184.20Z"/>
<text x="628.00" y="197.80">0</text>
<text x="730.0" y="238.0" text-anchor="middle" dominant-baseline="central">5</text>
<text x="881.0" y="265.0" text-anchor="middle" dominant-baseline="central">6</text>
<text x="624.0" y="308.0" text-anchor="middle" dominant-baseline="central">3</text>
<text x="814.0" y="331.0" text-anchor="middle" dominant-baseline="central">2</text>
<text x="791.0" y="388.0" text-anchor="middle" dominant-baseline="central">9</text>
<text x="974.0" y="403.0" text-anchor="middle" dominant-baseline="central">8</text>
<text x="709.0" y="409.0" text-anchor="middle" dominant-baseline="central">4</text>
<path d="M640.80 461.80 L639.13 461.80 L639.13 451.16 L638.52 451.73 L637.54 452.32 L636.55 452.91 L635.77 453.20 L635.77 451.58 L637.16 450.93 L638.20 450.00 L639.25 449.07 L639.68 448.20 L640.80 448.20Z"/>
<text x="834.0" y="476.0" text-anchor="middle" dominant-baseline="central">0</text>
</g>
<g font-family="Liberation Sans" font-size="11.6" fill="#111">
<circle cx="1042.7" cy="269.4" r="3.9" fill="#F8766D"/><text x="1056.30" y="273.55">0</text><circle cx="1042.7" cy="284.8" r="3.9" fill="#DB8E00"/><path d="M1060.33 288.91 L1059.31 288.91 L1059.31 282.42 L1058.93 282.76 L1058.33 283.12 L1057.73 283.48 L1057.25 283.66 L1057.25 282.67 L1058.10 282.28 L1058.74 281.71 L1059.38 281.14 L1059.64 280.61 L1060.33 280.61Z"/><circle cx="1042.7" cy="300.1" r="3.9" fill="#AEA200"/><path d="M1060.33 304.27 L1059.31 304.27 L1059.31 297.78 L1058.93 298.12 L1058.33 298.48 L1057.73 298.84 L1057.25 299.02 L1057.25 298.03 L1058.10 297.64 L1058.74 297.07 L1059.38 296.50 L1059.64 295.97 L1060.33 295.97Z"/><text x="1062.75" y="304.27">0</text><circle cx="1042.7" cy="315.5" r="3.9" fill="#64B200"/><text x="1056.30" y="319.63">2</text><circle cx="1042.7" cy="330.8" r="3.9" fill="#00BD5C"/><text x="1056.30" y="334.99">3</text><circle cx="1042.7" cy="346.2" r="3.9" fill="#00C1A7"/><text x="1056.30" y="350.35">4</text><circle cx="1042.7" cy="361.6" r="3.9" fill="#00BADE"/><text x="1056.30" y="365.71">5</text><circle cx="1042.7" cy="376.9" r="3.9" fill="#00A6FF"/><text x="1056.30" y="381.07">6</text><circle cx="1042.7" cy="392.3" r="3.9" fill="#B385FF"/><text x="1056.30" y="396.43">7</text><circle cx="1042.7" cy="407.6" r="3.9" fill="#EF67EB"/><text x="1056.30" y="411.79">8</text><circle cx="1042.7" cy="423.0" r="3.9" fill="#FF63B6"/><text x="1056.30" y="427.15">9</text>
</g>
</svg>
<div class="lbl" style="left:1135px;top:58.6px">Dimension Reduction:</div><div class="sel" style="top:80px"><span>TSNE</span><i></i></div><div class="lbl" style="left:1135px;top:132.6px">Cluster Resolution:</div><div class="sel" style="top:154px"><span>res.0.4</span><i></i></div><div class="lbl" style="left:1135px;top:206.6px">Split by:</div><div class="sel" style="top:228px"><span>RandomGroup</span><i></i></div><div class="lbl" style="left:1135px;top:280.4px">Adjust H/W Ratio of DimPlot</div><div class="irs-mm" style="left:1135px;top:303.1px">0.1</div><div class="irs-mm" style="left:1445.5px;top:303.1px">2</div><div class="irs-line" style="top:326.6px"></div><div class="irs-bar" style="top:326.6px;width:81.0px"></div><div class="irs-val" style="left:1202.5px;top:302.1px">0.54</div><div class="tk" style="left:1146.0px;top:335.1px;height:8px"></div><div class="tt" style="left:1146.5px;top:348.1px">0.1</div><div class="tk" style="left:1156.5px;top:335.1px;height:4px;background:#444"></div><div class="tk" style="left:1167.1px;top:335.1px;height:4px;background:#444"></div><div class="tk" style="left:1177.6px;top:335.1px;height:8px"></div><div class="tt" style="left:1178.1px;top:348.1px">0.3</div><div class="tk" style="left:1188.1px;top:335.1px;height:4px;background:#444"></div><div class="tk" style="left:1198.6px;top:335.1px;height:4px;background:#444"></div><div class="tk" style="left:1209.2px;top:335.1px;height:8px"></div><div class="tt" style="left:1209.7px;top:348.1px">0.5</div><div class="tk" style="left:1219.7px;top:335.1px;height:4px;background:#444"></div><div class="tk" style="left:1230.2px;top:335.1px;height:4px;background:#444"></div><div class="tk" style="left:1240.7px;top:335.1px;height:8px"></div><div class="tt" style="left:1241.2px;top:348.1px">0.7</div><div class="tk" style="left:1251.3px;top:335.1px;height:4px;background:#444"></div><div class="tk" style="left:1261.8px;top:335.1px;height:4px;background:#444"></div><div class="tk" style="left:1272.3px;top:335.1px;height:8px"></div><div class="tt" style="left:1272.8px;top:348.1px">0.9</div><div class="tk" style="left:1282.8px;top:335.1px;height:4px;background:#444"></div><div class="tk" style="left:1293.4px;top:335.1px;height:4px;background:#444"></div><div class="tk" style="left:1303.9px;top:335.1px;height:8px"></div><div class="tt" style="left:1304.4px;top:348.1px">1.1</div><div class="tk" style="left:1314.4px;top:335.1px;height:4px;background:#444"></div><div class="tk" style="left:1324.9px;top:335.1px;height:4px;background:#444"></div><div class="tk" style="left:1335.5px;top:335.1px;height:8px"></div><div class="tt" style="left:1336.0px;top:348.1px">1.3</div><div class="tk" style="left:1346.0px;top:335.1px;height:4px;background:#444"></div><div class="tk" style="left:1356.5px;top:335.1px;height:4px;background:#444"></div><div class="tk" style="left:1367.1px;top:335.1px;height:8px"></div><div class="tt" style="left:1367.6px;top:348.1px">1.5</div><div class="tk" style="left:1377.6px;top:335.1px;height:4px;background:#444"></div><div class="tk" style="left:1388.1px;top:335.1px;height:4px;background:#444"></div><div class="tk" style="left:1398.6px;top:335.1px;height:8px"></div><div class="tt" style="left:1399.1px;top:348.1px">1.7</div><div class="tk" style="left:1409.2px;top:335.1px;height:4px;background:#444"></div><div class="tk" style="left:1419.7px;top:335.1px;height:4px;background:#444"></div><div class="tk" style="left:1430.2px;top:335.1px;height:8px"></div><div class="tt" style="left:1430.7px;top:348.1px">1.9</div><div class="tk" style="left:1435.5px;top:335.1px;height:4px;background:#444"></div><div class="tk" style="left:1440.7px;top:335.1px;height:4px;background:#444"></div><div class="tk" style="left:1446.0px;top:335.1px;height:8px"></div><div class="tt" style="left:1446.5px;top:348.1px">2</div><div class="irs-h" style="left:1205.0px;top:319.6px"></div><div class="abs" style="left:1135px;top:381px;width:13px;height:13px;background:#1272e6;border-radius:2.5px;"><svg width="13" height="13" viewBox="0 0 13 13"><path d="M2.4 6.6 L5 9.1 L10.2 2.6" stroke="#fff" stroke-width="2" fill="none"/></svg></div><div class="abs" style="left:1155px;top:381px;font-size:13.3px;line-height:1;white-space:nowrap;color:#333">Show cluster label</div><div class="lbl" style="left:1135px;top:415.6px">Label Size:</div><div class="irs-mm" style="left:1135px;top:438.3px">0</div><div class="irs-mm" style="left:1440.5px;top:438.3px">10</div><div class="irs-line" style="top:461.8px"></div><div class="irs-bar" style="top:461.8px;width:221.5px"></div><div class="irs-val" style="left:1350.5px;top:437.3px">7</div><div class="tk" style="left:1146.0px;top:470.3px;height:8px"></div><div class="tt" style="left:1146.5px;top:483.3px">0</div><div class="tk" style="left:1156.0px;top:470.3px;height:4px;background:#444"></div><div class="tk" style="left:1166.0px;top:470.3px;height:4px;background:#444"></div><div class="tk" style="left:1176.0px;top:470.3px;height:8px"></div><div class="tt" style="left:1176.5px;top:483.3px">1</div><div class="tk" style="left:1186.0px;top:470.3px;height:4px;background:#444"></div><div class="tk" style="left:1196.0px;top:470.3px;height:4px;background:#444"></div><div class="tk" style="left:1206.0px;top:470.3px;height:8px"></div><div class="tt" style="left:1206.5px;top:483.3px">2</div><div class="tk" style="left:1216.0px;top:470.3px;height:4px;background:#444"></div><div class="tk" style="left:1226.0px;top:470.3px;height:4px;background:#444"></div><div class="tk" style="left:1236.0px;top:470.3px;height:8px"></div><div class="tt" style="left:1236.5px;top:483.3px">3</div><div class="tk" style="left:1246.0px;top:470.3px;height:4px;background:#444"></div><div class="tk" style="left:1256.0px;top:470.3px;height:4px;background:#444"></div><div class="tk" style="left:1266.0px;top:470.3px;height:8px"></div><div class="tt" style="left:1266.5px;top:483.3px">4</div><div class="tk" style="left:1276.0px;top:470.3px;height:4px;background:#444"></div><div class="tk" style="left:1286.0px;top:470.3px;height:4px;background:#444"></div><div class="tk" style="left:1296.0px;top:470.3px;height:8px"></div><div class="tt" style="left:1296.5px;top:483.3px">5</div><div class="tk" style="left:1306.0px;top:470.3px;height:4px;background:#444"></div><div class="tk" style="left:1316.0px;top:470.3px;height:4px;background:#444"></div><div class="tk" style="left:1326.0px;top:470.3px;height:8px"></div><div class="tt" style="left:1326.5px;top:483.3px">6</div><div class="tk" style="left:1336.0px;top:470.3px;height:4px;background:#444"></div><div class="tk" style="left:1346.0px;top:470.3px;height:4px;background:#444"></div><div class="tk" style="left:1356.0px;top:470.3px;height:8px"></div><div class="tt" style="left:1356.5px;top:483.3px">7</div><div class="tk" style="left:1366.0px;top:470.3px;height:4px;background:#444"></div><div class="tk" style="left:1376.0px;top:470.3px;height:4px;background:#444"></div><div class="tk" style="left:1386.0px;top:470.3px;height:8px"></div><div class="tt" style="left:1386.5px;top:483.3px">8</div><div class="tk" style="left:1396.0px;top:470.3px;height:4px;background:#444"></div><div class="tk" style="left:1406.0px;top:470.3px;height:4px;background:#444"></div><div class="tk" style="left:1416.0px;top:470.3px;height:8px"></div><div class="tt" style="left:1416.5px;top:483.3px">9</div><div class="tk" style="left:1426.0px;top:470.3px;height:4px;background:#444"></div><div class="tk" style="left:1436.0px;top:470.3px;height:4px;background:#444"></div><div class="tk" style="left:1446.0px;top:470.3px;height:8px"></div><div class="tt" style="left:1446.5px;top:483.3px">10</div><div class="irs-h" style="left:1345.5px;top:454.8px"></div><div class="lbl" style="left:1135px;top:515.6px">Point Size</div><div class="irs-mm" style="left:1135px;top:538.3px">0.001</div><div class="irs-mm" style="left:1445.5px;top:538.3px">2</div><div class="irs-line" style="top:561.8px"></div><div class="irs-bar" style="top:561.8px;width:131.4px"></div><div class="irs-val" style="left:1255.9px;top:537.3px">0.8</div><div class="tk" style="left:1146.0px;top:570.3px;height:8px"></div><div class="tt" style="left:1146.5px;top:583.3px">0.001</div><div class="tk" style="left:1156.0px;top:570.3px;height:4px;background:#444"></div><div class="tk" style="left:1165.9px;top:570.3px;height:4px;background:#444"></div><div class="tk" style="left:1175.9px;top:570.3px;height:8px"></div><div class="tt" style="left:1176.4px;top:583.3px">0.2</div><div class="tk" style="left:1185.9px;top:570.3px;height:4px;background:#444"></div><div class="tk" style="left:1195.9px;top:570.3px;height:4px;background:#444"></div><div class="tk" style="left:1205.9px;top:570.3px;height:8px"></div><div class="tt" style="left:1206.4px;top:583.3px">0.4</div><div class="tk" style="left:1215.9px;top:570.3px;height:4px;background:#444"></div><div class="tk" style="left:1225.9px;top:570.3px;height:4px;background:#444"></div><div class="tk" style="left:1235.9px;top:570.3px;height:8px"></div><div class="tt" style="left:1236.4px;top:583.3px">0.6</div><div class="tk" style="left:1245.9px;top:570.3px;height:4px;background:#444"></div><div class="tk" style="left:1255.9px;top:570.3px;height:4px;background:#444"></div><div class="tk" style="left:1265.9px;top:570.3px;height:8px"></div><div class="tt" style="left:1266.4px;top:583.3px">0.8</div><div class="tk" style="left:1275.9px;top:570.3px;height:4px;background:#444"></div><div class="tk" style="left:1285.9px;top:570.3px;height:4px;background:#444"></div><div class="tk" style="left:1295.9px;top:570.3px;height:8px"></div><div class="tt" style="left:1296.4px;top:583.3px">1</div><div class="tk" style="left:1305.9px;top:570.3px;height:4px;background:#444"></div><div class="tk" style="left:1315.9px;top:570.3px;height:4px;background:#444"></div><div class="tk" style="left:1325.9px;top:570.3px;height:8px"></div><div class="tt" style="left:1326.4px;top:583.3px">1.2</div><div class="tk" style="left:1335.9px;top:570.3px;height:4px;background:#444"></div><div class="tk" style="left:1345.9px;top:570.3px;height:4px;background:#444"></div><div class="tk" style="left:1356.0px;top:570.3px;height:8px"></div><div class="tt" style="left:1356.5px;top:583.3px">1.4</div><div class="tk" style="left:1366.0px;top:570.3px;height:4px;background:#444"></div><div class="tk" style="left:1376.0px;top:570.3px;height:4px;background:#444"></div><div class="tk" style="left:1386.0px;top:570.3px;height:8px"></div><div class="tt" style="left:1386.5px;top:583.3px">1.6</div><div class="tk" style="left:1396.0px;top:570.3px;height:4px;background:#444"></div><div class="tk" style="left:1406.0px;top:570.3px;height:4px;background:#444"></div><div class="tk" style="left:1416.0px;top:570.3px;height:8px"></div><div class="tt" style="left:1416.5px;top:583.3px">1.8</div><div class="tk" style="left:1426.0px;top:570.3px;height:4px;background:#444"></div><div class="tk" style="left:1436.0px;top:570.3px;height:4px;background:#444"></div><div class="tk" style="left:1446.0px;top:570.3px;height:8px"></div><div class="tt" style="left:1446.5px;top:583.3px">2</div><div class="irs-h" style="left:1255.4px;top:554.8px"></div>
</body></html>
